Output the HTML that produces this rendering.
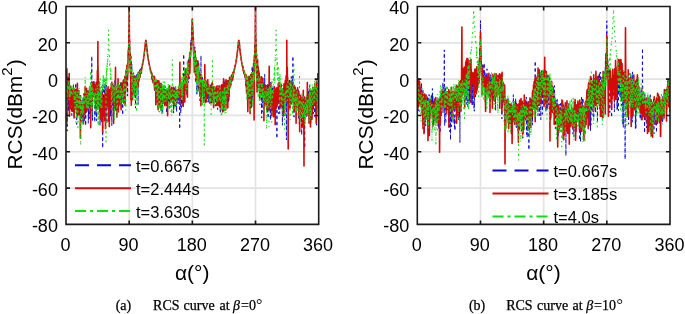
<!DOCTYPE html>
<html><head><meta charset="utf-8"><style>
html,body{margin:0;padding:0;background:#fff;width:685px;height:314px;overflow:hidden}
svg{display:block;will-change:transform;font-family:"Liberation Sans",sans-serif;fill:#000}
.cap{font-family:"Liberation Serif",serif;font-size:14px;stroke:#000;stroke-width:0.25px}
</style></head><body>
<svg width="685" height="314" viewBox="0 0 685 314">
<rect width="685" height="314" fill="#fff"/>
<clipPath id="c1"><rect x="66.0" y="6.5" width="252.7" height="217.9"/></clipPath>
<path d="M129.18 6.50V224.40M192.35 6.50V224.40M255.52 6.50V224.40M66.00 42.82H318.70M66.00 79.13H318.70M66.00 115.45H318.70M66.00 151.77H318.70M66.00 188.08H318.70" stroke="#e3e3e3" stroke-width="1.7" fill="none"/>
<g clip-path="url(#c1)" fill="none" stroke-width="1.50" stroke-linejoin="round">
<polyline stroke="#0a0ad2" stroke-width="1.0" stroke-dasharray="3 3" points="66.0,84.8 66.2,81.1 66.4,81.1 66.5,91.1 66.7,75.3 66.9,103.1 67.1,131.1 67.2,91.2 67.4,87.3 67.6,88.8 67.8,88.5 67.9,76.8 68.1,83.2 68.3,82.6 68.5,111.2 68.6,84.9 68.8,110.6 69.0,81.3 69.2,87.7 69.3,89.2 69.5,93.0 69.7,91.9 69.9,100.5 70.0,95.4 70.2,107.9 70.4,84.9 70.6,91.6 70.7,101.0 70.9,94.5 71.1,88.8 71.3,87.4 71.4,89.7 71.6,89.4 71.8,115.5 72.0,92.8 72.1,110.7 72.3,104.0 72.5,108.3 72.7,93.3 72.8,107.7 73.0,99.3 73.2,95.2 73.4,83.8 73.5,95.9 73.7,107.0 73.9,92.2 74.1,95.2 74.2,95.2 74.4,109.7 74.6,103.5 74.8,97.2 74.9,106.7 75.1,95.1 75.3,90.8 75.5,92.3 75.7,96.9 75.8,82.9 76.0,96.4 76.2,90.0 76.4,96.8 76.5,89.8 76.7,124.4 76.9,95.0 77.1,99.4 77.2,117.5 77.4,98.3 77.4,102.6 77.6,90.5 77.8,112.9 77.9,99.5 78.1,104.6 78.3,103.9 78.5,94.9 78.6,108.6 78.8,114.6 79.0,98.5 79.2,100.1 79.3,98.5 79.5,98.3 79.7,95.2 79.9,106.6 80.0,113.4 80.2,95.2 80.4,128.4 80.6,114.7 80.7,98.8 80.9,103.0 81.1,103.7 81.3,100.7 81.4,113.5 81.6,106.4 81.8,122.2 82.0,108.8 82.1,111.7 82.3,104.0 82.5,115.2 82.7,103.1 82.8,121.0 83.0,97.2 83.2,111.7 83.4,111.4 83.5,104.1 83.7,109.5 83.9,93.6 84.1,105.5 84.3,121.8 84.4,101.3 84.6,106.7 84.8,91.6 85.0,112.4 85.1,96.1 85.2,117.3 85.3,105.9 85.5,102.3 85.7,125.8 85.8,94.5 86.0,96.0 86.2,107.4 86.4,102.1 86.5,113.0 86.7,108.2 86.9,110.3 87.1,107.5 87.2,97.7 87.4,103.0 87.6,101.9 87.8,103.0 87.9,105.9 88.1,94.9 88.3,123.4 88.5,112.2 88.6,110.1 88.8,117.7 89.0,96.2 89.2,118.6 89.3,87.4 89.5,89.8 89.7,102.3 89.9,92.1 90.0,101.3 90.2,94.1 90.4,101.1 90.6,90.7 90.7,91.3 90.7,108.1 90.9,100.1 91.1,87.7 91.3,96.9 91.4,94.8 91.6,97.6 91.8,56.1 91.8,68.9 92.0,108.4 92.1,103.6 92.3,95.3 92.5,120.6 92.7,95.3 92.8,82.5 93.0,88.9 93.2,95.2 93.4,95.1 93.6,91.4 93.7,88.8 93.9,82.2 94.1,80.8 94.3,92.9 94.4,88.5 94.6,86.7 94.8,122.2 95.0,97.6 95.1,86.5 95.3,97.2 95.5,96.7 95.7,102.6 95.8,84.4 96.0,115.7 96.2,102.8 96.4,90.6 96.5,120.7 96.7,120.1 96.9,114.0 97.1,98.8 97.2,105.3 97.4,86.8 97.6,85.7 97.8,97.2 97.9,104.5 97.9,108.4 98.1,108.2 98.3,100.6 98.5,102.3 98.6,90.6 98.8,106.1 99.0,94.7 99.2,94.1 99.3,97.9 99.5,92.3 99.7,112.0 99.9,96.0 100.0,125.7 100.2,92.4 100.4,118.8 100.6,100.4 100.7,99.4 100.9,102.6 101.1,94.3 101.3,97.7 101.4,103.1 101.6,99.5 101.8,97.8 102.0,91.4 102.2,93.1 102.3,95.2 102.5,88.8 102.7,148.1 102.9,84.6 103.0,91.1 103.2,98.2 103.4,102.3 103.6,97.6 103.7,90.2 103.9,93.8 104.1,118.0 104.3,86.3 104.4,92.7 104.6,89.8 104.8,79.7 105.0,88.8 105.1,96.1 105.3,84.6 105.5,96.6 105.7,110.7 105.8,109.2 106.0,96.1 106.2,85.6 106.4,87.4 106.5,85.1 106.7,96.3 106.9,123.6 107.1,96.2 107.2,93.4 107.4,106.2 107.6,97.5 107.8,104.7 107.9,89.3 108.1,100.8 108.3,92.1 108.5,89.9 108.6,112.5 108.6,95.8 108.8,100.3 109.0,105.3 109.2,98.2 109.3,87.8 109.5,91.5 109.7,99.5 109.9,101.1 110.0,102.2 110.2,109.2 110.4,116.6 110.6,90.3 110.7,107.0 110.9,116.4 111.1,87.5 111.3,98.1 111.5,104.1 111.6,92.3 111.8,125.8 112.0,113.6 112.2,92.4 112.3,86.4 112.5,105.4 112.7,83.0 112.9,97.1 113.0,97.6 113.2,85.4 113.4,93.1 113.6,92.0 113.7,106.3 113.9,114.0 114.1,108.1 114.3,96.7 114.4,97.7 114.6,89.5 114.8,80.5 115.0,100.9 115.1,92.7 115.3,90.0 115.5,89.0 115.7,94.5 115.8,111.1 116.0,104.5 116.2,94.1 116.4,101.5 116.5,89.1 116.7,86.4 116.9,86.3 117.1,92.2 117.2,93.5 117.4,92.0 117.6,90.9 117.8,92.8 117.9,91.9 118.1,89.3 118.3,101.9 118.5,96.5 118.6,86.3 118.8,101.5 119.0,104.2 119.2,100.9 119.3,96.8 119.5,90.6 119.7,97.9 119.9,85.6 120.0,91.1 120.2,96.0 120.4,95.8 120.6,82.3 120.8,100.3 120.9,87.1 121.1,82.7 121.3,101.0 121.5,88.2 121.6,82.5 121.8,100.7 122.0,95.6 122.2,94.3 122.3,99.8 122.5,96.2 122.7,115.1 122.9,89.0 123.0,86.2 123.2,89.6 123.4,101.7 123.6,104.8 123.7,97.2 123.9,89.8 124.1,85.2 124.3,87.5 124.4,83.0 124.6,80.8 124.8,91.3 125.0,89.0 125.1,96.9 125.3,80.0 125.5,88.3 125.7,93.7 125.8,78.2 126.0,69.7 126.2,86.8 126.4,75.5 126.5,72.5 126.7,71.1 126.9,69.8 127.1,76.9 127.2,74.7 127.4,70.1 127.6,96.1 127.8,70.1 127.9,62.5 128.1,59.3 128.3,54.7 128.5,43.4 128.6,49.0 128.8,45.4 129.0,32.5 129.2,3.5 129.4,39.7 129.5,36.3 129.7,39.0 129.9,47.8 130.1,54.7 130.2,69.7 130.4,64.2 130.6,69.4 130.8,76.5 130.9,61.0 131.1,56.5 131.3,63.1 131.5,73.2 131.6,69.0 131.8,64.0 132.0,89.3 132.2,78.0 132.3,82.3 132.5,76.4 132.7,88.6 132.9,86.4 133.0,83.2 133.2,83.9 133.4,81.8 133.6,72.7 133.7,90.4 133.9,90.7 134.1,95.0 134.3,89.5 134.4,91.0 134.6,96.4 134.8,83.1 135.0,74.4 135.1,77.3 135.3,81.4 135.5,108.1 135.7,87.4 135.8,98.5 136.0,80.1 136.2,82.9 136.4,87.4 136.5,78.3 136.7,74.4 136.9,87.1 137.1,81.3 137.2,79.2 137.4,88.1 137.6,83.8 137.8,78.3 137.9,75.2 138.1,104.7 138.3,78.7 138.5,85.4 138.7,73.8 138.8,78.7 139.0,81.7 139.2,71.8 139.4,73.0 139.5,72.4 139.7,69.8 139.9,72.9 140.1,76.3 140.2,70.8 140.4,69.8 140.6,71.5 140.8,68.6 140.9,70.7 141.1,72.1 141.3,71.5 141.5,71.3 141.6,70.2 141.8,67.4 142.0,68.8 142.2,66.8 142.3,66.5 142.5,66.0 142.7,63.6 142.9,61.7 143.0,61.9 143.2,61.6 143.4,59.7 143.6,59.0 143.7,57.6 143.9,56.9 144.1,55.6 144.3,53.8 144.4,52.4 144.6,50.9 144.8,49.1 145.0,47.4 145.1,45.5 145.3,43.9 145.5,42.2 145.7,41.0 145.8,40.4 145.9,40.4 146.0,40.8 146.2,41.7 146.4,43.1 146.5,44.9 146.7,46.6 146.9,48.5 147.1,50.2 147.3,51.8 147.4,53.5 147.6,54.9 147.8,56.3 148.0,57.1 148.1,58.3 148.3,59.5 148.5,60.8 148.7,61.7 148.8,62.7 149.0,63.5 149.2,64.8 149.4,65.4 149.5,66.3 149.7,66.1 149.9,67.9 150.1,68.7 150.2,68.4 150.4,70.2 150.6,70.0 150.8,72.5 150.9,70.4 151.1,71.9 151.3,72.7 151.5,73.9 151.6,75.0 151.8,74.3 152.0,78.2 152.2,73.7 152.3,81.6 152.5,82.1 152.7,75.8 152.9,81.5 153.0,76.0 153.2,79.4 153.4,77.7 153.6,84.8 153.7,75.4 153.9,77.5 154.1,75.4 154.3,90.1 154.4,77.9 154.6,79.8 154.8,90.8 155.0,86.5 155.1,84.6 155.3,83.4 155.5,95.5 155.7,84.6 155.8,102.2 156.0,83.1 156.2,98.3 156.4,95.0 156.6,85.6 156.7,80.4 156.9,97.3 157.1,97.3 157.3,98.5 157.4,98.7 157.6,80.2 157.8,106.3 158.0,99.5 158.1,84.9 158.3,86.3 158.5,85.1 158.7,100.5 158.8,88.2 159.0,87.6 159.2,91.4 159.4,89.4 159.5,107.6 159.7,88.3 159.9,105.1 160.1,106.5 160.2,102.5 160.4,92.0 160.6,86.8 160.8,96.8 160.9,91.3 161.1,111.7 161.3,88.2 161.5,99.2 161.6,91.3 161.8,102.6 162.0,111.5 162.2,97.0 162.3,87.2 162.5,103.0 162.7,113.4 162.9,94.0 163.0,99.0 163.2,90.4 163.4,90.4 163.6,97.8 163.7,98.9 163.9,101.4 164.1,103.6 164.3,90.2 164.4,98.4 164.6,94.1 164.8,102.1 165.0,89.1 165.1,94.3 165.3,86.4 165.5,89.7 165.7,101.5 165.9,89.9 166.0,96.0 166.2,97.7 166.4,97.3 166.6,113.1 166.7,102.4 166.9,98.0 167.1,94.5 167.3,96.4 167.4,100.4 167.6,91.3 167.8,93.7 168.0,95.3 168.1,90.9 168.3,91.2 168.5,101.9 168.7,98.6 168.8,93.4 169.0,93.3 169.2,101.1 169.4,97.0 169.5,102.0 169.7,100.3 169.9,107.7 170.1,100.7 170.2,101.2 170.4,94.5 170.6,91.3 170.8,95.1 170.9,89.1 171.1,92.0 171.3,93.5 171.5,89.3 171.6,92.7 171.8,99.8 172.0,101.6 172.2,92.2 172.3,97.1 172.3,96.6 172.5,98.5 172.7,89.7 172.9,94.4 173.0,90.5 173.2,100.3 173.4,93.6 173.6,113.1 173.7,96.0 173.9,92.4 174.1,102.5 174.3,106.8 174.5,88.1 174.6,93.1 174.8,90.2 175.0,89.0 175.2,107.8 175.3,86.9 175.5,92.1 175.7,96.8 175.9,102.9 176.0,93.7 176.2,98.9 176.4,95.4 176.6,111.7 176.7,90.3 176.9,96.3 177.1,92.2 177.3,93.6 177.4,95.6 177.6,93.3 177.8,98.3 178.0,95.8 178.1,103.6 178.3,97.2 178.5,90.2 178.7,95.6 178.8,100.6 179.0,95.8 179.2,104.5 179.4,105.8 179.5,105.5 179.7,129.1 179.9,93.1 179.9,98.4 180.1,96.9 180.2,94.0 180.4,94.4 180.6,97.9 180.8,113.4 180.9,100.1 181.1,87.1 181.3,88.5 181.5,107.5 181.6,88.2 181.8,90.4 182.0,93.4 182.2,86.9 182.3,87.9 182.5,84.1 182.7,106.0 182.9,90.9 183.0,97.1 183.2,91.1 183.4,86.2 183.6,69.8 183.7,54.0 183.8,63.6 183.9,89.8 184.1,82.3 184.3,73.0 184.5,74.2 184.6,87.3 184.8,90.2 185.0,77.9 185.2,92.1 185.3,79.4 185.5,73.6 185.7,84.4 185.9,91.2 186.0,72.9 186.2,72.7 186.4,77.7 186.6,93.1 186.7,76.3 186.9,74.5 187.1,95.4 187.3,85.1 187.4,73.6 187.6,70.6 187.8,60.8 188.0,77.5 188.1,82.7 188.3,61.5 188.5,65.0 188.7,59.7 188.8,78.5 189.0,58.0 189.2,78.6 189.4,66.1 189.5,57.1 189.7,54.5 189.9,62.6 190.1,53.2 190.2,50.3 190.4,54.5 190.6,51.5 190.8,42.7 190.9,46.4 191.1,40.0 191.3,43.3 191.5,41.7 191.6,36.2 191.8,33.2 192.0,25.3 192.2,21.1 192.3,18.1 192.5,22.9 192.7,29.6 192.9,34.3 193.1,43.2 193.2,45.7 193.4,40.7 193.6,41.6 193.8,58.6 193.9,49.9 194.1,51.6 194.3,64.7 194.5,62.2 194.6,57.8 194.8,47.0 195.0,55.7 195.2,50.8 195.3,67.2 195.5,58.5 195.7,58.8 195.9,83.0 196.0,70.6 196.2,58.9 196.4,82.5 196.6,70.9 196.7,94.2 196.9,70.3 197.1,70.6 197.3,66.8 197.4,67.8 197.6,72.7 197.8,91.4 198.0,86.4 198.1,87.0 198.3,90.5 198.5,72.1 198.7,72.4 198.8,76.1 199.0,90.7 199.2,84.4 199.4,82.8 199.5,77.0 199.7,96.3 199.9,100.7 200.1,84.9 200.2,92.6 200.4,73.9 200.6,80.9 200.8,72.0 200.9,67.6 201.0,55.6 201.1,101.9 201.3,87.0 201.5,79.8 201.7,92.0 201.8,86.9 202.0,85.1 202.2,84.0 202.4,91.7 202.5,77.2 202.7,93.8 202.9,84.1 203.1,92.6 203.2,92.7 203.4,82.4 203.6,89.2 203.8,91.1 203.9,87.7 204.1,92.3 204.3,90.6 204.5,91.4 204.6,101.6 204.8,87.6 204.8,92.3 205.0,93.8 205.2,87.7 205.3,89.8 205.5,89.7 205.7,103.7 205.9,88.5 206.0,93.2 206.2,88.6 206.4,88.2 206.6,95.4 206.7,95.8 206.9,88.7 207.1,88.2 207.3,99.0 207.4,94.1 207.6,94.8 207.8,94.8 208.0,96.7 208.1,102.2 208.3,91.0 208.5,89.6 208.7,100.4 208.8,95.8 209.0,102.2 209.2,95.0 209.4,94.9 209.5,88.4 209.7,95.0 209.9,91.2 210.1,86.2 210.2,92.4 210.4,84.8 210.6,90.7 210.8,96.2 211.0,103.0 211.1,95.5 211.3,95.1 211.5,95.5 211.7,96.7 211.8,103.5 212.0,89.3 212.2,92.6 212.4,94.3 212.4,91.7 212.5,88.4 212.7,87.9 212.9,93.0 213.1,96.6 213.2,90.7 213.4,103.8 213.6,94.7 213.8,98.4 213.9,97.5 214.1,96.5 214.3,88.8 214.5,97.6 214.6,90.5 214.8,90.7 215.0,98.5 215.2,94.7 215.3,106.2 215.5,98.0 215.7,96.2 215.9,90.2 216.0,94.6 216.2,98.8 216.4,91.4 216.6,102.1 216.7,99.8 216.9,98.8 217.1,97.9 217.3,100.8 217.4,94.1 217.6,109.6 217.8,94.4 218.0,95.2 218.1,104.0 218.3,101.0 218.5,94.6 218.7,98.4 218.8,94.2 219.0,91.6 219.2,99.2 219.4,99.1 219.6,98.5 219.7,88.6 219.9,91.4 220.1,93.8 220.3,113.4 220.4,109.9 220.6,95.4 220.8,94.5 221.0,95.0 221.1,102.7 221.3,105.9 221.5,84.3 221.7,98.0 221.8,92.2 222.0,88.9 222.2,87.9 222.4,85.8 222.5,91.5 222.7,110.9 222.9,95.5 223.1,84.7 223.2,81.4 223.4,84.9 223.6,90.3 223.8,98.2 223.9,88.3 224.1,94.3 224.3,82.8 224.5,92.5 224.6,85.8 224.8,108.4 225.0,79.6 225.2,92.6 225.3,84.0 225.5,83.6 225.7,96.1 225.9,85.4 226.0,85.8 226.2,85.9 226.4,89.1 226.6,96.4 226.7,87.6 226.9,81.0 227.1,86.4 227.3,99.9 227.4,91.8 227.6,95.8 227.8,96.7 228.0,86.3 228.1,83.5 228.3,82.5 228.5,102.0 228.7,80.3 228.9,87.9 229.0,100.3 229.2,89.0 229.4,82.1 229.6,84.5 229.7,81.8 229.9,86.4 230.1,78.9 230.3,81.7 230.4,88.4 230.6,79.5 230.8,85.1 231.0,81.7 231.1,77.4 231.3,77.2 231.5,78.8 231.7,74.6 231.8,81.4 232.0,76.3 232.2,80.8 232.4,78.6 232.5,78.8 232.7,78.9 232.9,73.8 233.1,76.6 233.2,72.4 233.4,72.1 233.6,71.7 233.8,71.1 233.9,71.4 234.1,71.6 234.3,71.3 234.5,69.3 234.6,69.0 234.8,67.9 235.0,66.7 235.2,65.8 235.3,65.6 235.5,64.7 235.7,63.4 235.9,62.7 236.0,61.2 236.2,60.8 236.4,59.2 236.6,58.0 236.7,57.2 236.9,55.9 237.1,54.6 237.3,53.5 237.4,51.8 237.6,50.0 237.8,48.6 238.0,46.7 238.2,44.8 238.3,43.1 238.5,41.8 238.7,40.7 238.8,40.5 238.9,40.4 239.0,41.1 239.2,42.2 239.4,43.8 239.6,45.5 239.7,47.5 239.9,49.2 240.1,50.8 240.3,52.4 240.4,54.0 240.6,55.2 240.8,56.7 241.0,57.5 241.1,59.3 241.3,60.5 241.5,61.3 241.7,62.4 241.8,63.7 242.0,64.4 242.2,65.1 242.4,66.0 242.5,66.2 242.7,65.9 242.9,67.8 243.1,67.4 243.2,69.2 243.4,70.2 243.6,69.8 243.8,71.3 243.9,74.2 244.1,71.2 244.3,75.4 244.5,72.2 244.6,74.1 244.8,74.0 245.0,74.6 245.2,77.2 245.3,75.7 245.5,80.3 245.7,77.5 245.9,77.8 246.0,79.2 246.2,84.7 246.4,89.2 246.6,80.9 246.8,77.5 246.9,86.9 247.1,85.8 247.3,96.2 247.5,98.6 247.6,84.4 247.8,78.4 248.0,88.1 248.2,85.1 248.3,83.8 248.5,75.7 248.7,91.0 248.9,95.6 249.0,89.7 249.2,80.2 249.4,89.6 249.6,89.3 249.7,78.6 249.9,82.9 250.1,76.4 250.3,78.1 250.4,79.6 250.6,76.3 250.8,89.0 251.0,80.9 251.1,100.9 251.3,96.5 251.5,81.1 251.7,89.7 251.8,106.5 252.0,75.9 252.2,65.9 252.4,100.0 252.5,68.4 252.7,73.2 252.9,82.4 253.1,69.4 253.2,70.5 253.4,96.5 253.6,69.4 253.8,85.4 253.9,78.7 254.1,59.5 254.3,78.7 254.5,53.3 254.6,72.4 254.8,45.0 255.0,47.1 255.2,39.6 255.3,38.7 255.5,3.5 255.7,35.3 255.9,37.5 256.1,48.2 256.2,52.6 256.4,64.1 256.6,65.3 256.8,54.6 256.9,83.5 257.1,87.1 257.3,69.5 257.5,87.7 257.6,68.1 257.8,79.7 258.0,87.8 258.2,76.0 258.3,69.9 258.5,88.0 258.7,81.1 258.9,78.4 259.0,79.6 259.2,72.8 259.4,80.8 259.6,75.8 259.7,89.8 259.9,91.7 260.1,84.3 260.3,83.6 260.4,87.5 260.6,93.5 260.8,86.2 261.0,86.7 261.1,94.0 261.3,105.0 261.5,84.7 261.7,118.1 261.8,96.7 262.0,111.9 262.2,88.4 262.4,86.1 262.5,103.7 262.7,87.8 262.9,83.1 263.1,85.3 263.2,101.6 263.4,88.1 263.6,91.7 263.8,89.5 263.9,88.1 264.1,81.7 264.3,90.6 264.5,94.3 264.7,74.2 264.8,88.9 265.0,90.1 265.2,100.7 265.4,88.4 265.5,93.6 265.7,96.7 265.9,85.4 266.1,86.4 266.2,85.1 266.4,99.6 266.6,111.9 266.8,87.3 266.9,103.6 267.1,95.6 267.3,89.3 267.5,107.7 267.6,94.4 267.8,83.6 268.0,104.8 268.2,118.6 268.3,83.1 268.5,100.9 268.7,104.5 268.9,95.0 269.0,88.7 269.2,83.2 269.4,97.5 269.6,93.4 269.7,92.1 269.9,96.6 270.1,82.0 270.3,86.0 270.4,120.1 270.6,91.8 270.8,94.6 271.0,88.2 271.1,104.6 271.3,93.0 271.5,108.2 271.7,103.1 271.8,95.7 272.0,91.4 272.2,95.5 272.4,87.2 272.5,91.3 272.7,100.9 272.9,88.5 273.1,109.9 273.2,91.9 273.4,89.9 273.6,104.1 273.8,101.3 274.0,100.4 274.1,85.8 274.3,94.5 274.5,97.9 274.7,97.0 274.8,113.6 275.0,107.0 275.2,100.5 275.4,100.2 275.5,95.2 275.7,89.6 275.9,97.3 276.1,105.9 276.1,92.6 276.2,107.8 276.4,87.8 276.6,96.2 276.8,108.5 276.9,138.5 277.1,99.8 277.3,94.8 277.5,96.6 277.6,96.4 277.8,103.8 278.0,96.6 278.2,89.1 278.3,90.4 278.5,109.2 278.7,113.9 278.9,93.6 279.0,87.9 279.2,95.7 279.4,90.6 279.6,88.1 279.7,113.5 279.9,107.5 280.1,98.4 280.3,92.3 280.4,99.7 280.6,96.9 280.8,93.3 281.0,95.0 281.1,99.5 281.3,91.3 281.5,105.5 281.7,109.1 281.8,102.4 282.0,98.8 282.2,93.6 282.4,125.3 282.5,92.5 282.7,90.2 282.9,110.9 283.1,111.4 283.3,90.6 283.4,106.9 283.6,98.9 283.8,88.4 284.0,102.7 284.1,93.8 284.3,107.6 284.5,96.2 284.7,117.5 284.8,94.7 285.0,91.8 285.2,87.7 285.4,104.7 285.5,86.2 285.7,88.8 285.9,109.9 286.1,97.5 286.2,92.4 286.4,140.0 286.6,92.0 286.8,96.9 286.8,97.3 286.9,90.7 287.1,96.3 287.3,90.6 287.5,92.9 287.6,103.1 287.8,88.3 288.0,102.7 288.2,88.5 288.3,103.6 288.5,97.5 288.7,101.4 288.9,95.7 289.0,91.6 289.2,92.2 289.4,78.7 289.6,83.5 289.7,100.8 289.9,80.6 290.1,87.4 290.3,87.8 290.4,92.9 290.6,89.1 290.8,87.8 291.0,89.3 291.1,80.7 291.3,76.5 291.5,101.1 291.7,89.9 291.9,82.6 292.0,92.6 292.2,89.9 292.4,79.2 292.6,82.9 292.7,87.3 292.9,66.7 292.9,56.1 293.1,81.8 293.3,87.5 293.4,85.8 293.6,94.7 293.8,89.2 294.0,113.3 294.0,117.1 294.1,84.5 294.3,95.7 294.5,105.9 294.7,87.6 294.8,104.8 295.0,87.4 295.2,97.1 295.4,101.0 295.5,110.4 295.7,99.5 295.9,105.1 296.1,103.7 296.2,103.1 296.4,106.7 296.6,107.1 296.8,95.4 296.9,101.9 297.1,95.8 297.3,103.0 297.5,95.2 297.6,95.0 297.8,106.6 298.0,96.5 298.2,110.5 298.3,89.0 298.5,111.0 298.7,108.9 298.9,120.0 299.0,90.0 299.2,100.0 299.4,114.9 299.5,97.3 299.6,101.8 299.7,105.8 299.9,100.5 300.1,105.9 300.3,100.7 300.4,104.9 300.6,101.4 300.8,102.3 301.0,94.7 301.2,121.5 301.3,107.6 301.5,109.3 301.7,134.9 301.9,110.3 302.0,101.7 302.2,104.5 302.4,107.6 302.6,110.2 302.7,110.1 302.9,113.3 303.1,102.7 303.3,112.6 303.4,105.5 303.6,101.9 303.8,98.8 304.0,117.6 304.1,111.5 304.3,104.7 304.5,122.0 304.7,148.1 304.8,101.9 305.0,101.6 305.2,107.4 305.4,113.5 305.5,105.2 305.7,107.1 305.9,111.1 306.1,98.5 306.2,104.6 306.4,97.0 306.6,116.8 306.8,109.3 306.9,95.7 307.1,110.5 307.3,100.4 307.3,108.5 307.5,113.3 307.6,100.6 307.8,88.8 308.0,88.6 308.2,90.7 308.3,97.8 308.5,91.2 308.7,102.7 308.9,93.8 309.0,95.4 309.2,118.8 309.4,93.4 309.6,85.6 309.8,105.4 309.9,89.5 310.1,93.9 310.3,99.1 310.5,94.3 310.6,99.4 310.8,101.2 311.0,92.3 311.2,96.0 311.3,96.7 311.5,93.1 311.7,92.1 311.9,115.7 312.0,100.6 312.2,114.1 312.4,92.9 312.6,92.2 312.7,103.9 312.9,105.4 313.1,91.4 313.3,95.0 313.4,113.7 313.6,94.1 313.8,95.4 314.0,100.8 314.1,102.2 314.3,103.6 314.5,108.0 314.7,116.5 314.8,92.5 315.0,109.9 315.2,98.1 315.4,110.8 315.5,96.7 315.7,101.7 315.9,104.3 316.1,117.9 316.2,102.8 316.4,88.3 316.6,125.2 316.8,80.2 316.9,112.1 317.1,89.2 317.3,78.5 317.5,95.4 317.6,81.3 317.8,87.8 318.0,89.0 318.2,78.1 318.3,102.3 318.5,91.2 318.7,108.2"/>
<polyline stroke="#d20a0a" stroke-width="1.6" points="66.0,76.6 66.2,74.5 66.4,84.8 66.5,82.1 66.7,101.6 66.9,68.7 67.1,87.4 67.2,122.0 67.4,95.0 67.6,89.9 67.8,83.3 67.9,88.7 68.1,81.6 68.3,84.5 68.5,81.8 68.6,77.2 68.8,97.7 69.0,85.4 69.2,73.5 69.3,98.2 69.5,116.1 69.7,91.5 69.9,90.0 70.0,86.1 70.2,96.8 70.4,90.2 70.6,86.8 70.7,93.7 70.9,108.6 71.1,100.9 71.3,90.0 71.4,89.9 71.6,100.1 71.8,102.1 72.0,90.4 72.1,100.5 72.3,103.7 72.5,95.6 72.7,90.4 72.8,111.5 73.0,90.3 73.2,100.6 73.4,88.4 73.5,95.3 73.7,111.4 73.9,102.9 74.1,118.0 74.2,113.0 74.4,112.7 74.6,89.0 74.8,92.7 74.9,109.7 75.1,92.9 75.3,101.3 75.5,97.1 75.7,99.4 75.8,98.1 76.0,96.5 76.2,89.4 76.4,101.3 76.5,108.6 76.7,90.7 76.9,111.6 77.1,115.9 77.2,97.3 77.4,83.3 77.4,101.1 77.6,99.9 77.8,90.3 77.9,103.8 78.1,96.5 78.3,95.4 78.5,101.9 78.6,90.5 78.8,114.9 79.0,113.8 79.2,103.4 79.3,100.8 79.5,99.5 79.7,112.4 79.9,105.0 80.0,112.7 80.2,96.3 80.4,138.2 80.6,110.3 80.7,109.0 80.9,107.3 81.1,117.6 81.3,112.7 81.4,109.2 81.6,110.0 81.8,104.1 82.0,104.3 82.1,105.3 82.3,104.2 82.5,103.3 82.7,112.4 82.8,106.7 83.0,109.0 83.2,117.9 83.4,99.5 83.5,123.7 83.7,104.4 83.9,104.9 84.1,112.5 84.3,98.5 84.4,94.1 84.6,113.6 84.8,102.1 85.0,103.5 85.1,86.8 85.2,102.5 85.3,108.4 85.5,95.6 85.7,91.9 85.8,100.2 86.0,99.6 86.2,98.1 86.4,93.8 86.5,88.2 86.7,111.4 86.9,104.6 87.1,93.4 87.2,94.2 87.4,95.6 87.6,97.7 87.8,102.4 87.9,100.5 88.1,90.8 88.3,93.8 88.5,93.7 88.6,105.4 88.8,103.2 89.0,102.6 89.2,98.7 89.3,97.2 89.5,93.8 89.7,107.6 89.9,93.6 90.0,109.3 90.2,94.9 90.4,99.0 90.6,111.9 90.7,96.0 90.7,127.8 90.9,92.8 91.1,95.1 91.3,97.3 91.4,89.3 91.6,84.4 91.8,110.5 91.8,94.6 92.0,85.0 92.1,85.7 92.3,98.9 92.5,86.7 92.7,97.7 92.8,91.0 93.0,82.2 93.2,88.4 93.4,92.5 93.6,81.7 93.7,96.2 93.9,92.7 94.1,91.0 94.3,90.0 94.4,85.1 94.6,84.7 94.8,90.2 95.0,94.8 95.1,93.0 95.3,94.7 95.5,87.3 95.7,102.8 95.8,104.6 96.0,108.8 96.2,82.2 96.4,98.3 96.5,95.2 96.7,91.5 96.9,104.9 97.1,90.2 97.2,91.7 97.4,70.6 97.6,92.4 97.8,62.9 97.9,41.6 97.9,63.9 98.1,71.6 98.3,83.2 98.5,88.1 98.6,83.9 98.8,95.2 99.0,81.8 99.2,107.3 99.3,102.0 99.5,102.5 99.7,91.1 99.9,103.6 100.0,104.5 100.2,93.0 100.4,107.1 100.6,96.4 100.7,119.5 100.9,104.5 101.1,105.1 101.3,115.4 101.4,101.6 101.6,101.4 101.8,121.5 102.0,111.1 102.2,93.3 102.3,109.7 102.5,123.0 102.7,132.1 102.9,102.2 103.0,100.5 103.2,111.5 103.4,115.0 103.6,115.4 103.7,99.7 103.9,97.8 104.1,111.4 104.3,110.2 104.4,101.8 104.6,120.5 104.8,95.9 105.0,106.0 105.1,93.8 105.3,92.3 105.5,128.5 105.7,107.2 105.8,87.9 106.0,92.0 106.2,95.1 106.4,96.0 106.5,97.8 106.7,107.2 106.9,106.1 107.1,97.4 107.2,100.6 107.4,96.5 107.6,92.5 107.8,90.9 107.9,89.7 108.1,86.8 108.3,93.5 108.5,90.4 108.6,121.1 108.6,91.2 108.8,102.0 109.0,103.7 109.2,96.1 109.3,126.6 109.5,111.8 109.7,93.2 109.9,90.8 110.0,98.1 110.2,93.9 110.4,108.2 110.6,88.8 110.7,90.8 110.9,93.8 111.1,101.9 111.3,83.9 111.5,96.1 111.6,88.7 111.8,82.5 112.0,87.0 112.2,94.3 112.3,98.8 112.5,96.6 112.7,89.8 112.9,88.9 113.0,88.5 113.2,95.4 113.4,103.4 113.6,123.5 113.7,91.2 113.9,108.0 114.1,99.5 114.3,95.5 114.4,95.4 114.6,102.5 114.8,87.0 115.0,99.6 115.1,109.5 115.3,92.3 115.5,67.4 115.7,102.8 115.8,94.5 116.0,95.7 116.2,97.6 116.4,92.5 116.5,97.4 116.7,91.2 116.9,117.0 117.1,94.0 117.2,102.0 117.4,102.2 117.6,95.0 117.8,100.4 117.9,87.3 118.1,78.8 118.3,112.0 118.5,100.5 118.6,92.9 118.8,105.1 119.0,105.6 119.2,100.6 119.3,85.2 119.5,86.1 119.7,86.0 119.9,98.9 120.0,87.3 120.2,89.0 120.4,88.5 120.6,96.1 120.8,94.1 120.9,102.5 121.1,109.8 121.3,82.8 121.5,89.7 121.6,93.0 121.8,93.3 122.0,87.5 122.2,84.3 122.3,86.3 122.5,94.1 122.7,85.9 122.9,82.7 123.0,89.4 123.2,80.5 123.4,85.3 123.6,99.8 123.7,89.2 123.9,101.7 124.1,79.5 124.3,88.6 124.4,89.7 124.6,91.8 124.8,76.6 125.0,85.3 125.1,105.3 125.3,85.0 125.5,84.6 125.7,91.0 125.8,76.0 126.0,79.4 126.2,71.4 126.4,83.4 126.5,84.9 126.7,77.1 126.9,65.4 127.1,70.2 127.2,72.8 127.4,65.2 127.6,77.3 127.8,64.7 127.9,59.1 128.1,56.4 128.3,50.3 128.5,52.2 128.6,51.5 128.8,42.2 129.0,28.9 129.2,3.5 129.4,36.5 129.5,39.4 129.7,51.5 129.9,64.7 130.1,67.8 130.2,53.4 130.4,56.4 130.6,71.2 130.8,82.2 130.9,99.7 131.1,85.1 131.3,105.2 131.5,91.1 131.6,72.7 131.8,73.7 132.0,75.7 132.2,78.0 132.3,76.4 132.5,99.6 132.7,94.8 132.9,75.8 133.0,92.5 133.2,85.8 133.4,83.4 133.6,83.1 133.7,89.8 133.9,82.2 134.1,82.1 134.3,80.3 134.4,77.5 134.6,76.0 134.8,80.5 135.0,82.5 135.1,77.8 135.3,90.4 135.5,92.4 135.7,78.9 135.8,78.8 136.0,77.1 136.2,80.6 136.4,83.2 136.5,87.1 136.7,80.8 136.9,85.3 137.1,79.1 137.2,90.0 137.4,80.5 137.6,80.1 137.8,79.5 137.9,73.9 138.1,86.8 138.3,72.2 138.5,82.1 138.7,76.4 138.8,80.8 139.0,80.1 139.2,76.1 139.4,74.3 139.5,78.0 139.7,76.1 139.9,77.0 140.1,77.3 140.2,76.2 140.4,71.8 140.6,71.7 140.8,69.9 140.9,71.3 141.1,70.7 141.3,73.1 141.5,70.0 141.6,69.2 141.8,68.0 142.0,67.3 142.2,66.8 142.3,65.9 142.5,63.5 142.7,64.1 142.9,62.8 143.0,62.2 143.2,61.4 143.4,60.1 143.6,58.8 143.7,57.7 143.9,56.2 144.1,55.3 144.3,53.9 144.4,52.3 144.6,50.7 144.8,49.1 145.0,47.3 145.1,45.7 145.3,43.9 145.5,42.2 145.7,41.0 145.8,40.4 145.9,40.4 146.0,40.7 146.2,41.8 146.4,43.2 146.5,45.0 146.7,46.7 146.9,48.4 147.1,50.2 147.3,51.6 147.4,53.4 147.6,54.7 147.8,56.3 148.0,57.3 148.1,58.7 148.3,59.6 148.5,60.5 148.7,61.7 148.8,62.8 149.0,63.3 149.2,64.5 149.4,64.8 149.5,65.9 149.7,66.6 149.9,68.1 150.1,68.0 150.2,68.5 150.4,70.1 150.6,71.7 150.8,72.1 150.9,70.9 151.1,71.7 151.3,73.2 151.5,73.7 151.6,72.3 151.8,78.2 152.0,79.1 152.2,74.0 152.3,75.2 152.5,77.5 152.7,77.0 152.9,77.4 153.0,82.8 153.2,81.8 153.4,80.7 153.6,79.7 153.7,82.5 153.9,78.6 154.1,84.2 154.3,82.5 154.4,84.3 154.6,77.1 154.8,88.6 155.0,88.2 155.1,89.8 155.3,86.6 155.5,85.6 155.7,83.1 155.8,104.7 156.0,90.6 156.2,83.9 156.4,95.6 156.6,83.8 156.7,80.4 156.9,85.3 157.1,82.5 157.3,82.7 157.4,85.3 157.6,104.5 157.8,91.7 158.0,108.3 158.1,109.7 158.3,84.6 158.5,93.5 158.7,96.7 158.8,80.7 159.0,81.8 159.2,87.1 159.4,90.9 159.5,97.8 159.7,105.1 159.9,100.4 160.1,85.1 160.2,92.5 160.4,85.5 160.6,83.7 160.8,109.4 160.9,85.3 161.1,83.4 161.3,104.1 161.5,84.3 161.6,85.9 161.8,87.6 162.0,96.2 162.2,90.3 162.3,87.9 162.5,90.7 162.7,88.1 162.9,90.8 163.0,101.9 163.2,87.9 163.4,89.7 163.6,87.8 163.7,91.6 163.9,95.5 164.1,100.1 164.3,90.5 164.4,95.0 164.6,90.1 164.8,105.6 165.0,101.0 165.1,98.1 165.3,95.8 165.5,96.9 165.7,93.2 165.9,90.0 166.0,100.0 166.2,97.1 166.4,105.1 166.6,102.8 166.7,96.2 166.9,95.5 167.1,102.1 167.3,107.0 167.4,89.5 167.6,115.7 167.8,92.2 168.0,94.1 168.1,92.7 168.3,88.0 168.5,90.7 168.7,91.4 168.8,95.8 169.0,87.9 169.2,97.0 169.4,91.5 169.5,90.0 169.7,85.7 169.9,99.6 170.1,91.8 170.2,89.1 170.4,90.0 170.6,91.4 170.8,90.6 170.9,93.3 171.1,94.7 171.3,100.7 171.5,89.2 171.6,93.3 171.8,87.3 172.0,89.5 172.2,100.1 172.3,91.1 172.3,93.0 172.5,88.2 172.7,92.8 172.9,92.4 173.0,103.1 173.2,88.5 173.4,94.5 173.6,87.3 173.7,95.3 173.9,100.3 174.1,91.3 174.3,104.4 174.5,100.3 174.6,92.4 174.8,90.4 175.0,92.0 175.2,91.7 175.3,95.3 175.5,89.9 175.7,96.5 175.9,97.4 176.0,95.6 176.2,96.4 176.4,94.4 176.6,96.4 176.7,95.4 176.9,95.5 177.1,102.1 177.3,90.6 177.4,90.1 177.6,93.6 177.8,94.0 178.0,90.1 178.1,96.8 178.3,90.2 178.5,94.3 178.7,91.6 178.8,90.9 179.0,88.0 179.2,94.5 179.4,92.6 179.5,84.2 179.7,104.0 179.9,62.3 179.9,72.7 180.1,83.6 180.2,99.1 180.4,86.3 180.6,83.8 180.8,95.8 180.9,94.0 181.1,86.8 181.3,91.6 181.5,92.3 181.6,85.5 181.8,91.3 182.0,82.0 182.2,89.6 182.3,86.5 182.5,88.9 182.7,86.4 182.9,84.4 183.0,87.2 183.2,106.4 183.4,91.3 183.6,83.1 183.7,84.9 183.8,82.5 183.9,85.6 184.1,79.8 184.3,76.2 184.5,79.6 184.6,93.7 184.8,102.1 185.0,81.2 185.2,86.6 185.3,83.9 185.5,68.7 185.7,88.2 185.9,89.9 186.0,78.5 186.2,78.5 186.4,77.4 186.6,73.0 186.7,81.1 186.9,74.1 187.1,95.2 187.3,69.6 187.4,97.2 187.6,69.8 187.8,79.9 188.0,68.7 188.1,67.6 188.3,65.1 188.5,76.5 188.7,63.3 188.8,61.2 189.0,61.2 189.2,61.2 189.4,61.8 189.5,64.8 189.7,53.8 189.9,73.3 190.1,61.7 190.2,53.1 190.4,52.8 190.6,55.9 190.8,45.7 190.9,47.8 191.1,44.3 191.3,49.2 191.5,41.7 191.6,43.2 191.8,33.2 192.0,27.3 192.2,23.6 192.3,19.1 192.5,23.5 192.7,28.6 192.9,31.5 193.1,40.7 193.2,37.2 193.4,41.8 193.6,46.3 193.8,54.0 193.9,50.2 194.1,49.7 194.3,72.2 194.5,65.5 194.6,52.2 194.8,60.7 195.0,51.4 195.2,53.5 195.3,56.5 195.5,74.6 195.7,58.7 195.9,58.7 196.0,58.1 196.2,65.7 196.4,81.3 196.6,61.1 196.7,77.4 196.9,60.9 197.1,76.1 197.3,61.2 197.4,76.4 197.6,68.8 197.8,69.0 198.0,61.0 198.1,74.6 198.3,79.4 198.5,63.6 198.7,76.7 198.8,69.8 199.0,74.7 199.2,78.5 199.4,91.3 199.5,72.9 199.7,73.9 199.9,93.9 200.1,87.4 200.2,94.7 200.4,89.5 200.6,86.2 200.8,79.8 200.9,105.7 201.0,80.8 201.1,74.7 201.3,85.6 201.5,82.3 201.7,83.5 201.8,90.4 202.0,93.5 202.2,83.0 202.4,79.5 202.5,83.0 202.7,84.9 202.9,82.7 203.1,89.4 203.2,91.3 203.4,84.7 203.6,81.9 203.8,102.2 203.9,97.7 204.1,83.4 204.3,82.4 204.5,94.2 204.6,87.5 204.8,74.1 204.8,64.6 205.0,85.5 205.2,84.5 205.3,92.2 205.5,86.8 205.7,91.4 205.9,81.4 206.0,95.9 206.2,88.1 206.4,101.7 206.6,81.3 206.7,89.5 206.9,88.9 207.1,83.2 207.3,84.1 207.4,86.5 207.6,83.8 207.8,79.8 208.0,94.6 208.1,90.0 208.3,91.9 208.5,92.3 208.7,86.1 208.8,85.0 209.0,92.8 209.2,93.0 209.4,91.3 209.5,91.2 209.7,92.7 209.9,103.3 210.1,90.0 210.2,89.5 210.4,92.1 210.6,90.9 210.8,87.0 211.0,90.7 211.1,85.6 211.3,97.0 211.5,86.8 211.7,93.8 211.8,84.8 212.0,83.0 212.2,87.0 212.4,90.8 212.4,82.9 212.5,101.8 212.7,91.4 212.9,89.4 213.1,92.2 213.2,90.1 213.4,94.7 213.6,107.6 213.8,90.3 213.9,89.9 214.1,86.8 214.3,99.2 214.5,91.8 214.6,93.7 214.8,88.4 215.0,88.6 215.2,94.7 215.3,98.1 215.5,98.3 215.7,87.3 215.9,88.1 216.0,98.2 216.2,102.3 216.4,89.1 216.6,105.5 216.7,86.4 216.9,94.7 217.1,92.7 217.3,86.6 217.4,89.3 217.6,90.2 217.8,86.1 218.0,85.8 218.1,92.7 218.3,94.8 218.5,105.5 218.7,89.0 218.8,86.9 219.0,94.7 219.2,102.1 219.4,95.1 219.6,107.0 219.7,88.2 219.9,85.8 220.1,100.2 220.3,89.7 220.4,94.2 220.6,108.0 220.8,91.9 221.0,90.8 221.1,94.1 221.3,105.2 221.5,95.3 221.7,92.7 221.8,88.0 222.0,95.5 222.2,84.8 222.4,104.9 222.5,96.3 222.7,112.0 222.9,101.3 223.1,97.7 223.2,91.2 223.4,95.8 223.6,78.9 223.8,84.0 223.9,86.5 224.1,110.8 224.3,87.1 224.5,92.6 224.6,92.0 224.8,85.5 225.0,104.2 225.2,97.2 225.3,104.9 225.5,83.5 225.7,109.9 225.9,94.5 226.0,79.9 226.2,84.1 226.4,88.4 226.6,82.8 226.7,97.1 226.9,89.6 227.1,84.0 227.3,90.1 227.4,80.9 227.6,108.0 227.8,107.8 228.0,88.1 228.1,85.8 228.3,80.8 228.5,86.4 228.7,80.9 228.9,82.4 229.0,96.5 229.2,86.7 229.4,85.6 229.6,77.4 229.7,81.6 229.9,78.5 230.1,81.6 230.3,81.0 230.4,85.3 230.6,86.0 230.8,83.1 231.0,80.0 231.1,77.8 231.3,76.1 231.5,81.8 231.7,75.0 231.8,76.7 232.0,77.2 232.2,79.7 232.4,78.3 232.5,74.6 232.7,79.6 232.9,72.4 233.1,77.3 233.2,74.9 233.4,74.5 233.6,72.6 233.8,73.0 233.9,73.0 234.1,70.7 234.3,69.1 234.5,69.8 234.6,67.6 234.8,68.0 235.0,66.4 235.2,65.5 235.3,64.8 235.5,65.0 235.7,63.3 235.9,62.4 236.0,61.3 236.2,60.8 236.4,59.5 236.6,58.5 236.7,57.4 236.9,56.5 237.1,54.7 237.3,53.1 237.4,52.0 237.6,50.0 237.8,48.7 238.0,46.6 238.2,44.8 238.3,43.0 238.5,41.8 238.7,40.7 238.8,40.4 238.9,40.5 239.0,41.0 239.2,42.2 239.4,43.7 239.6,45.5 239.7,47.4 239.9,49.2 240.1,50.8 240.3,52.5 240.4,53.8 240.6,55.1 240.8,56.4 241.0,57.6 241.1,58.9 241.3,60.5 241.5,60.9 241.7,62.3 241.8,63.2 242.0,64.0 242.2,65.3 242.4,66.4 242.5,65.2 242.7,66.5 242.9,68.3 243.1,70.4 243.2,70.7 243.4,69.6 243.6,70.1 243.8,70.2 243.9,73.4 244.1,72.4 244.3,73.3 244.5,73.7 244.6,73.1 244.8,75.9 245.0,74.0 245.2,77.7 245.3,77.4 245.5,77.1 245.7,78.4 245.9,85.5 246.0,74.8 246.2,77.3 246.4,76.0 246.6,93.6 246.8,79.3 246.9,76.7 247.1,83.7 247.3,80.2 247.5,86.0 247.6,89.3 247.8,111.6 248.0,97.2 248.2,88.2 248.3,96.7 248.5,81.6 248.7,98.3 248.9,82.7 249.0,76.2 249.2,86.7 249.4,83.5 249.6,83.8 249.7,77.0 249.9,88.0 250.1,113.5 250.3,76.8 250.4,78.5 250.6,86.2 250.8,74.6 251.0,89.9 251.1,95.7 251.3,107.4 251.5,99.2 251.7,79.4 251.8,82.3 252.0,72.8 252.2,74.6 252.4,83.5 252.5,73.9 252.7,89.0 252.9,83.4 253.1,94.4 253.2,79.0 253.4,80.1 253.6,63.4 253.8,66.2 253.9,70.9 254.1,120.0 254.3,64.2 254.5,55.1 254.6,54.4 254.8,58.0 255.0,44.3 255.2,44.0 255.3,33.6 255.5,3.5 255.7,33.6 255.9,46.4 256.1,50.7 256.2,44.8 256.4,60.9 256.6,73.8 256.8,62.3 256.9,59.0 257.1,92.1 257.3,81.2 257.5,69.7 257.6,59.5 257.8,73.6 258.0,66.6 258.2,67.1 258.3,70.8 258.5,82.5 258.7,70.5 258.9,76.1 259.0,78.0 259.2,74.3 259.4,87.2 259.6,79.7 259.7,98.4 259.9,94.3 260.1,88.0 260.3,80.7 260.4,84.2 260.6,86.0 260.8,87.4 261.0,83.1 261.1,76.7 261.3,93.2 261.5,76.9 261.7,84.4 261.8,82.2 262.0,80.7 262.2,82.8 262.4,91.9 262.5,87.1 262.7,90.4 262.9,78.3 263.1,96.0 263.2,84.3 263.4,93.7 263.6,100.0 263.8,89.0 263.9,120.8 264.1,97.6 264.3,92.8 264.5,97.8 264.7,106.5 264.8,87.0 265.0,84.5 265.2,97.1 265.4,100.4 265.5,99.8 265.7,85.7 265.9,96.2 266.1,103.7 266.2,94.5 266.4,93.6 266.6,94.4 266.8,101.6 266.9,92.2 267.1,111.5 267.3,91.4 267.5,107.9 267.6,111.6 267.8,93.2 268.0,92.7 268.2,104.2 268.3,97.3 268.5,104.4 268.7,96.0 268.9,90.0 269.0,99.1 269.2,66.4 269.4,110.1 269.6,100.6 269.7,91.2 269.9,95.4 270.1,97.5 270.3,102.7 270.4,87.5 270.6,88.5 270.8,106.3 271.0,83.6 271.1,96.6 271.3,104.2 271.5,97.6 271.7,92.1 271.8,115.7 272.0,98.1 272.2,94.4 272.4,111.7 272.5,109.3 272.7,92.4 272.9,101.9 273.1,100.3 273.2,92.3 273.4,95.5 273.6,116.7 273.8,89.2 274.0,95.9 274.1,108.3 274.3,86.9 274.5,96.0 274.7,87.7 274.8,101.8 275.0,88.8 275.2,124.8 275.4,90.2 275.5,90.8 275.7,99.1 275.9,95.8 276.1,89.0 276.1,108.7 276.2,91.6 276.4,93.2 276.6,94.9 276.8,87.7 276.9,95.5 277.1,102.1 277.3,105.0 277.5,89.2 277.6,88.6 277.8,104.0 278.0,97.1 278.2,95.8 278.3,84.4 278.5,87.2 278.7,91.7 278.9,85.1 279.0,82.2 279.2,83.6 279.4,90.2 279.6,98.2 279.7,103.7 279.9,91.8 280.1,104.3 280.3,101.3 280.4,107.5 280.6,93.9 280.8,92.2 281.0,97.0 281.1,84.3 281.3,90.4 281.5,100.3 281.7,105.6 281.8,100.3 282.0,89.0 282.2,95.3 282.4,91.7 282.5,90.5 282.7,89.3 282.9,101.0 283.1,100.4 283.3,96.9 283.4,115.9 283.6,101.0 283.8,93.1 284.0,83.9 284.1,95.8 284.3,112.0 284.5,97.8 284.7,101.4 284.8,99.4 285.0,99.4 285.2,80.7 285.4,96.6 285.5,80.7 285.7,88.1 285.9,101.2 286.1,75.8 286.2,92.1 286.4,82.1 286.6,89.7 286.8,61.9 286.8,40.3 286.9,78.9 287.1,78.7 287.3,67.2 287.5,96.4 287.6,76.8 287.8,100.0 288.0,95.8 288.2,149.0 288.3,81.3 288.5,111.8 288.7,87.6 288.9,81.8 289.0,91.7 289.2,91.7 289.4,87.9 289.6,83.5 289.7,94.4 289.9,104.1 290.1,108.0 290.3,93.0 290.4,82.2 290.6,94.5 290.8,95.6 291.0,94.6 291.1,91.3 291.3,104.0 291.5,91.8 291.7,81.2 291.9,98.4 292.0,100.3 292.2,96.6 292.4,101.5 292.6,93.1 292.7,96.1 292.9,88.4 292.9,92.3 293.1,89.3 293.3,102.0 293.4,102.5 293.6,89.4 293.8,88.1 294.0,102.1 294.0,90.8 294.1,96.0 294.3,110.8 294.5,85.8 294.7,98.4 294.8,89.1 295.0,87.2 295.2,97.1 295.4,100.6 295.5,97.3 295.7,94.7 295.9,104.6 296.1,123.3 296.2,103.3 296.4,90.3 296.6,94.4 296.8,97.3 296.9,100.8 297.1,107.2 297.3,100.8 297.5,91.4 297.6,87.7 297.8,92.6 298.0,92.7 298.2,92.8 298.3,94.6 298.5,96.1 298.7,115.0 298.9,108.6 299.0,93.9 299.2,104.0 299.4,101.4 299.5,124.7 299.6,119.6 299.7,131.6 299.9,100.0 300.1,117.8 300.3,95.4 300.4,97.0 300.6,114.5 300.8,108.1 301.0,109.8 301.2,105.0 301.3,98.7 301.5,97.9 301.7,102.8 301.9,117.1 302.0,103.4 302.2,101.0 302.4,104.8 302.6,127.0 302.7,111.5 302.9,117.1 303.1,98.6 303.3,90.3 303.4,107.0 303.6,96.8 303.8,112.3 304.0,165.9 304.1,99.6 304.3,104.5 304.5,117.2 304.7,97.1 304.8,101.4 305.0,102.7 305.2,110.4 305.4,101.2 305.5,113.3 305.7,100.1 305.9,112.4 306.1,104.3 306.2,114.7 306.4,101.6 306.6,105.6 306.8,105.4 306.9,114.6 307.1,99.6 307.3,94.9 307.3,82.5 307.5,113.4 307.6,107.5 307.8,112.9 308.0,104.9 308.2,107.9 308.3,105.3 308.5,102.9 308.7,105.9 308.9,96.6 309.0,123.1 309.2,93.5 309.4,104.8 309.6,92.7 309.8,92.1 309.9,94.5 310.1,101.8 310.3,106.2 310.5,127.0 310.6,106.3 310.8,123.0 311.0,90.6 311.2,93.8 311.3,106.8 311.5,100.8 311.7,107.3 311.9,106.9 312.0,119.3 312.2,100.0 312.4,112.3 312.6,98.8 312.7,89.2 312.9,87.4 313.1,94.4 313.3,103.4 313.4,105.2 313.6,104.8 313.8,103.2 314.0,95.2 314.1,90.8 314.3,92.3 314.5,96.7 314.7,103.1 314.8,104.7 315.0,83.9 315.2,101.5 315.4,90.2 315.5,93.7 315.7,87.8 315.9,95.1 316.1,86.7 316.2,123.3 316.4,87.1 316.6,96.1 316.8,83.0 316.9,85.8 317.1,92.5 317.3,80.8 317.5,96.4 317.6,94.7 317.8,73.8 318.0,80.0 318.2,87.0 318.3,97.1 318.5,117.3 318.7,84.1"/>
<polyline stroke="#14dc14" stroke-width="1.1" stroke-dasharray="2 3.5 1 3.5" points="66.0,88.2 66.2,107.3 66.4,102.2 66.5,93.3 66.7,80.9 66.9,124.1 67.1,86.0 67.2,95.8 67.4,84.6 67.6,87.3 67.8,85.1 67.9,93.3 68.1,88.4 68.3,85.4 68.5,83.0 68.6,87.4 68.8,80.8 69.0,88.6 69.2,86.1 69.3,100.5 69.5,92.8 69.7,84.0 69.9,98.1 70.0,95.9 70.2,86.7 70.4,92.7 70.6,89.9 70.7,96.6 70.9,91.3 71.1,92.0 71.3,94.6 71.4,85.0 71.6,89.9 71.8,93.4 72.0,93.1 72.1,93.0 72.3,91.7 72.5,92.0 72.7,94.2 72.8,88.7 73.0,85.4 73.2,88.4 73.4,90.0 73.5,89.6 73.7,94.7 73.9,99.4 74.1,100.1 74.2,88.1 74.4,102.5 74.6,100.7 74.8,92.6 74.9,108.2 75.1,99.6 75.3,96.4 75.5,93.9 75.7,90.6 75.8,95.8 76.0,124.7 76.2,91.1 76.4,103.9 76.5,118.0 76.7,113.4 76.9,105.2 77.1,99.2 77.2,106.2 77.4,100.8 77.4,92.6 77.6,91.1 77.8,98.3 77.9,129.4 78.1,91.8 78.3,104.8 78.5,102.9 78.6,107.4 78.8,105.3 79.0,94.3 79.2,107.6 79.3,87.1 79.5,101.9 79.7,108.7 79.9,97.1 80.0,107.0 80.2,102.7 80.4,108.7 80.6,95.9 80.7,145.0 80.9,104.3 81.1,94.8 81.3,107.7 81.4,112.5 81.6,105.6 81.8,109.8 82.0,110.6 82.1,100.2 82.3,114.5 82.5,101.7 82.7,104.5 82.8,126.0 83.0,97.7 83.2,108.8 83.4,101.4 83.5,105.0 83.7,112.1 83.9,97.9 84.1,105.1 84.3,105.2 84.4,103.0 84.6,96.4 84.8,92.8 85.0,104.5 85.1,97.3 85.2,76.8 85.3,95.9 85.5,95.1 85.7,101.0 85.8,99.8 86.0,95.2 86.2,103.1 86.4,107.8 86.5,99.2 86.7,101.5 86.9,107.8 87.1,92.0 87.2,98.1 87.4,97.0 87.6,103.8 87.8,107.3 87.9,94.0 88.1,97.2 88.3,107.8 88.5,99.7 88.6,91.1 88.8,94.8 89.0,99.1 89.2,90.3 89.3,104.7 89.5,85.2 89.7,94.2 89.9,89.5 90.0,85.3 90.2,97.7 90.4,88.1 90.6,104.4 90.7,70.8 90.7,76.6 90.9,93.4 91.1,108.8 91.3,97.4 91.4,86.9 91.6,82.0 91.8,106.9 91.8,115.7 92.0,86.0 92.1,100.1 92.3,108.3 92.5,107.6 92.7,89.1 92.8,90.5 93.0,87.2 93.2,96.8 93.4,92.4 93.6,93.2 93.7,98.6 93.9,105.3 94.1,96.4 94.3,93.8 94.4,103.8 94.6,93.1 94.8,109.8 95.0,97.4 95.1,91.6 95.3,101.0 95.5,100.5 95.7,101.7 95.8,87.1 96.0,88.4 96.2,94.4 96.4,112.4 96.5,103.0 96.7,110.1 96.9,93.5 97.1,106.9 97.2,86.9 97.4,84.9 97.6,111.3 97.8,100.0 97.9,93.9 97.9,94.1 98.1,125.4 98.3,89.7 98.5,101.2 98.6,91.2 98.8,125.7 99.0,84.5 99.2,91.9 99.3,94.2 99.5,90.5 99.7,89.1 99.9,107.1 100.0,96.5 100.2,78.6 100.4,101.4 100.6,95.1 100.7,108.7 100.9,99.5 101.1,87.5 101.3,89.6 101.4,94.0 101.6,86.1 101.8,108.8 102.0,94.9 102.2,88.2 102.3,91.8 102.5,89.2 102.7,79.0 102.9,80.5 103.0,88.4 103.2,73.7 103.4,83.6 103.6,84.4 103.7,77.6 103.9,88.7 104.1,86.5 104.3,82.4 104.4,77.6 104.6,78.4 104.8,85.4 105.0,87.0 105.1,77.4 105.3,87.7 105.5,81.5 105.7,92.1 105.8,86.2 106.0,142.0 106.2,73.9 106.4,71.4 106.5,80.6 106.7,65.1 106.9,84.1 107.1,70.4 107.2,61.5 107.4,67.7 107.6,55.8 107.8,59.8 107.9,55.6 108.1,53.4 108.3,45.3 108.5,35.0 108.6,30.0 108.6,30.2 108.8,41.5 109.0,47.3 109.2,50.7 109.3,58.0 109.5,55.9 109.7,65.4 109.9,61.6 110.0,62.9 110.2,67.1 110.4,79.1 110.6,78.2 110.7,70.4 110.9,79.6 111.1,76.1 111.3,94.7 111.5,105.9 111.6,90.8 111.8,100.4 112.0,81.3 112.2,101.3 112.3,91.9 112.5,85.8 112.7,82.6 112.9,88.4 113.0,93.3 113.2,87.1 113.4,90.9 113.6,92.2 113.7,83.8 113.9,102.3 114.1,93.3 114.3,94.2 114.4,120.2 114.6,85.8 114.8,88.0 115.0,97.4 115.1,93.4 115.3,94.1 115.5,85.2 115.7,89.4 115.8,86.3 116.0,91.0 116.2,91.0 116.4,89.6 116.5,103.4 116.7,112.5 116.9,84.8 117.1,97.2 117.2,118.8 117.4,99.9 117.6,91.0 117.8,95.0 117.9,101.6 118.1,84.9 118.3,81.0 118.5,84.1 118.6,84.8 118.8,98.3 119.0,89.2 119.2,99.6 119.3,97.7 119.5,100.0 119.7,96.6 119.9,94.0 120.0,82.3 120.2,98.8 120.4,99.5 120.6,86.6 120.8,98.7 120.9,103.7 121.1,103.2 121.3,92.5 121.5,94.4 121.6,88.5 121.8,94.8 122.0,94.7 122.2,91.0 122.3,91.6 122.5,103.5 122.7,89.4 122.9,93.8 123.0,104.0 123.2,88.5 123.4,88.6 123.6,86.4 123.7,95.2 123.9,82.1 124.1,87.7 124.3,105.1 124.4,104.6 124.6,84.9 124.8,90.1 125.0,75.0 125.1,89.6 125.3,84.2 125.5,82.4 125.7,86.4 125.8,110.3 126.0,69.9 126.2,75.0 126.4,77.2 126.5,69.8 126.7,76.0 126.9,73.5 127.1,72.9 127.2,76.1 127.4,60.0 127.6,58.2 127.8,60.6 127.9,74.1 128.1,56.0 128.3,47.7 128.5,46.3 128.6,47.8 128.8,44.5 129.0,32.5 129.2,3.5 129.4,32.9 129.5,38.8 129.7,72.1 129.9,46.4 130.1,67.0 130.2,56.5 130.4,61.2 130.6,65.7 130.8,75.2 130.9,68.0 131.1,65.2 131.3,74.4 131.5,80.4 131.6,76.3 131.8,91.0 132.0,65.2 132.2,73.0 132.3,98.7 132.5,91.3 132.7,77.0 132.9,78.8 133.0,72.3 133.2,81.4 133.4,89.4 133.6,91.1 133.7,88.5 133.9,80.0 134.1,83.9 134.3,99.4 134.4,77.9 134.6,94.5 134.8,84.8 135.0,103.5 135.1,107.0 135.3,77.5 135.5,85.5 135.7,76.7 135.8,82.7 136.0,78.5 136.2,98.8 136.4,78.2 136.5,88.0 136.7,111.6 136.9,96.9 137.1,84.8 137.2,93.1 137.4,73.6 137.6,76.7 137.8,94.4 137.9,76.3 138.1,79.2 138.3,73.7 138.5,72.0 138.7,78.7 138.8,75.3 139.0,76.2 139.2,73.3 139.4,78.7 139.5,81.4 139.7,71.1 139.9,78.3 140.1,73.9 140.2,75.1 140.4,71.9 140.6,73.9 140.8,69.8 140.9,72.4 141.1,71.7 141.3,70.6 141.5,70.0 141.6,69.4 141.8,68.2 142.0,67.2 142.2,65.6 142.3,66.2 142.5,64.0 142.7,63.4 142.9,62.6 143.0,61.7 143.2,61.0 143.4,59.9 143.6,58.4 143.7,57.5 143.9,56.4 144.1,55.3 144.3,53.7 144.4,52.2 144.6,51.1 144.8,49.0 145.0,47.3 145.1,45.4 145.3,43.8 145.5,42.3 145.7,40.9 145.8,40.5 145.9,40.3 146.0,40.6 146.2,41.5 146.4,43.2 146.5,45.1 146.7,46.5 146.9,48.6 147.1,50.2 147.3,51.7 147.4,53.6 147.6,54.6 147.8,56.3 148.0,57.1 148.1,59.0 148.3,60.1 148.5,59.9 148.7,62.1 148.8,62.2 149.0,63.2 149.2,64.7 149.4,64.9 149.5,66.2 149.7,67.3 149.9,69.4 150.1,67.4 150.2,69.0 150.4,71.2 150.6,72.1 150.8,71.1 150.9,71.4 151.1,71.4 151.3,72.9 151.5,73.7 151.6,76.3 151.8,73.4 152.0,75.1 152.2,77.4 152.3,76.2 152.5,79.9 152.7,74.9 152.9,78.8 153.0,82.1 153.2,85.1 153.4,76.2 153.6,86.4 153.7,82.4 153.9,81.0 154.1,79.6 154.3,85.9 154.4,82.2 154.6,78.7 154.8,90.2 155.0,87.3 155.1,88.3 155.3,87.2 155.5,85.7 155.7,78.3 155.8,93.3 156.0,87.6 156.2,81.3 156.4,91.2 156.6,80.6 156.7,87.2 156.9,98.2 157.1,90.7 157.3,82.6 157.4,109.5 157.6,84.5 157.8,108.7 158.0,83.4 158.1,98.0 158.3,84.6 158.5,87.2 158.7,102.9 158.8,111.5 159.0,86.9 159.2,88.6 159.4,88.7 159.5,101.3 159.7,111.9 159.9,107.1 160.1,92.6 160.2,88.0 160.4,87.8 160.6,98.2 160.8,112.2 160.9,89.4 161.1,84.4 161.3,103.4 161.5,93.3 161.6,113.6 161.8,99.3 162.0,87.2 162.2,85.6 162.3,94.3 162.5,113.3 162.7,84.6 162.9,105.4 163.0,108.5 163.2,81.7 163.4,96.0 163.6,89.8 163.7,86.6 163.9,94.9 164.1,101.6 164.3,81.8 164.4,102.1 164.6,86.8 164.8,81.8 165.0,96.9 165.1,86.3 165.3,84.4 165.5,87.2 165.7,87.9 165.9,101.5 166.0,90.4 166.2,91.5 166.4,94.5 166.6,91.7 166.7,88.5 166.9,101.3 167.1,99.9 167.3,87.0 167.4,89.5 167.6,94.4 167.8,92.8 168.0,90.9 168.1,86.1 168.3,82.9 168.5,107.0 168.7,86.8 168.8,97.4 169.0,91.0 169.2,97.9 169.4,108.6 169.5,103.4 169.7,88.7 169.9,90.8 170.1,98.9 170.2,91.7 170.4,90.2 170.6,101.4 170.8,111.1 170.9,96.7 171.1,106.7 171.3,93.3 171.5,88.9 171.6,115.8 171.8,101.1 172.0,113.6 172.2,88.0 172.3,59.8 172.3,79.2 172.5,94.3 172.7,102.5 172.9,98.4 173.0,100.7 173.2,93.5 173.4,96.5 173.6,93.2 173.7,90.9 173.9,98.2 174.1,90.5 174.3,103.4 174.5,91.5 174.6,89.3 174.8,94.5 175.0,110.5 175.2,94.0 175.3,98.9 175.5,88.8 175.7,85.4 175.9,99.9 176.0,94.6 176.2,105.2 176.4,88.1 176.6,98.3 176.7,92.7 176.9,101.4 177.1,95.4 177.3,90.5 177.4,97.4 177.6,94.2 177.8,89.8 178.0,90.5 178.1,86.9 178.3,99.6 178.5,94.8 178.7,84.8 178.8,89.0 179.0,93.6 179.2,91.8 179.4,95.1 179.5,84.5 179.7,82.8 179.9,90.7 179.9,90.5 180.1,85.1 180.2,86.7 180.4,83.0 180.6,81.7 180.8,86.4 180.9,81.2 181.1,80.9 181.3,95.1 181.5,79.0 181.6,79.5 181.8,100.0 182.0,76.7 182.2,80.5 182.3,101.1 182.5,73.7 182.7,92.5 182.9,83.5 183.0,95.0 183.2,78.4 183.4,76.6 183.6,80.6 183.7,85.3 183.8,83.8 183.9,78.5 184.1,80.1 184.3,83.6 184.5,66.8 184.6,83.7 184.8,74.1 185.0,75.7 185.2,78.3 185.3,79.1 185.5,85.8 185.7,92.6 185.9,83.0 186.0,80.0 186.2,67.0 186.4,74.1 186.6,78.0 186.7,88.1 186.9,89.7 187.1,60.7 187.3,67.3 187.4,84.3 187.6,60.2 187.8,69.5 188.0,64.0 188.1,66.1 188.3,65.6 188.5,73.3 188.7,73.9 188.8,75.5 189.0,56.3 189.2,56.2 189.4,56.2 189.5,55.5 189.7,53.8 189.9,57.0 190.1,52.4 190.2,57.9 190.4,51.3 190.6,58.9 190.8,46.4 190.9,53.4 191.1,53.7 191.3,51.9 191.5,48.2 191.6,45.5 191.8,35.1 192.0,28.7 192.2,20.3 192.3,18.6 192.5,20.7 192.7,30.6 192.9,35.2 193.1,48.5 193.2,52.0 193.4,39.8 193.6,55.7 193.8,48.3 193.9,56.4 194.1,67.5 194.3,52.3 194.5,56.3 194.6,53.3 194.8,64.3 195.0,74.0 195.2,53.3 195.3,55.1 195.5,60.9 195.7,58.8 195.9,62.7 196.0,73.7 196.2,56.3 196.4,62.1 196.6,61.2 196.7,91.8 196.9,68.0 197.1,69.6 197.3,94.1 197.4,66.7 197.6,82.1 197.8,75.8 198.0,65.4 198.1,76.4 198.3,84.4 198.5,65.5 198.7,77.6 198.8,67.3 199.0,79.1 199.2,92.2 199.4,79.5 199.5,85.9 199.7,82.9 199.9,80.0 200.1,98.3 200.2,78.4 200.4,81.3 200.6,83.0 200.8,75.5 200.9,76.8 201.0,76.3 201.1,81.2 201.3,80.8 201.5,79.0 201.7,83.4 201.8,73.8 202.0,80.5 202.2,104.7 202.4,80.8 202.5,104.7 202.7,77.8 202.9,82.2 203.1,86.7 203.2,79.7 203.4,86.0 203.6,83.6 203.8,86.4 203.9,103.1 204.1,85.2 204.3,145.0 204.5,80.3 204.6,88.7 204.8,79.0 204.8,79.6 205.0,80.6 205.2,83.4 205.3,85.5 205.5,78.7 205.7,87.8 205.9,83.6 206.0,81.5 206.2,83.3 206.4,90.0 206.6,82.6 206.7,84.6 206.9,91.4 207.1,89.7 207.3,90.0 207.4,93.1 207.6,86.3 207.8,89.8 208.0,90.8 208.1,91.6 208.3,89.2 208.5,93.4 208.7,88.1 208.8,96.9 209.0,98.3 209.2,84.7 209.4,103.0 209.5,96.0 209.7,91.4 209.9,93.1 210.1,88.5 210.2,88.8 210.4,102.3 210.6,100.3 210.8,93.3 211.0,92.9 211.1,114.4 211.3,93.8 211.5,88.7 211.7,89.0 211.8,89.6 212.0,91.4 212.2,85.2 212.4,88.4 212.4,58.6 212.5,78.4 212.7,102.1 212.9,91.6 213.1,88.8 213.2,94.9 213.4,95.5 213.6,100.7 213.8,92.5 213.9,106.0 214.1,92.8 214.3,105.3 214.5,93.1 214.6,85.6 214.8,100.1 215.0,85.2 215.2,95.2 215.3,94.7 215.5,93.3 215.7,98.4 215.9,92.6 216.0,102.4 216.2,97.2 216.4,95.9 216.6,102.1 216.7,95.8 216.9,97.3 217.1,91.9 217.3,101.9 217.4,89.9 217.6,90.5 217.8,96.8 218.0,86.5 218.1,92.5 218.3,100.3 218.5,100.3 218.7,94.0 218.8,93.4 219.0,93.6 219.2,96.0 219.4,100.2 219.6,94.0 219.7,85.7 219.9,93.6 220.1,89.3 220.3,95.5 220.4,102.5 220.6,91.3 220.8,98.0 221.0,96.7 221.1,114.8 221.3,103.7 221.5,102.5 221.7,111.4 221.8,114.2 222.0,95.8 222.2,92.5 222.4,106.3 222.5,91.7 222.7,110.2 222.9,95.8 223.1,97.5 223.2,89.7 223.4,103.2 223.6,94.5 223.8,95.4 223.9,108.1 224.1,109.7 224.3,88.4 224.5,102.4 224.6,88.4 224.8,113.8 225.0,86.9 225.2,91.7 225.3,92.7 225.5,109.3 225.7,90.1 225.9,113.0 226.0,93.0 226.2,104.9 226.4,96.6 226.6,87.7 226.7,87.5 226.9,90.7 227.1,96.7 227.3,84.2 227.4,92.4 227.6,91.3 227.8,90.5 228.0,88.7 228.1,85.8 228.3,92.8 228.5,93.8 228.7,90.9 228.9,82.0 229.0,90.1 229.2,83.1 229.4,86.5 229.6,80.7 229.7,82.4 229.9,82.3 230.1,80.1 230.3,86.1 230.4,79.8 230.6,87.9 230.8,80.5 231.0,79.4 231.1,76.5 231.3,82.9 231.5,83.8 231.7,77.7 231.8,76.7 232.0,77.6 232.2,78.2 232.4,77.7 232.5,75.2 232.7,76.3 232.9,73.2 233.1,76.5 233.2,71.6 233.4,74.6 233.6,72.7 233.8,71.9 233.9,71.8 234.1,70.7 234.3,69.1 234.5,70.2 234.6,69.7 234.8,66.8 235.0,67.0 235.2,65.7 235.3,64.5 235.5,64.2 235.7,63.9 235.9,63.2 236.0,61.6 236.2,60.4 236.4,59.1 236.6,58.9 236.7,57.1 236.9,55.7 237.1,54.4 237.3,52.8 237.4,51.8 237.6,50.3 237.8,48.5 238.0,46.6 238.2,45.0 238.3,43.2 238.5,41.8 238.7,40.7 238.8,40.5 238.9,40.3 239.0,41.0 239.2,42.3 239.4,43.6 239.6,45.5 239.7,47.4 239.9,49.3 240.1,50.9 240.3,52.3 240.4,54.1 240.6,55.2 240.8,56.8 241.0,57.4 241.1,59.1 241.3,60.6 241.5,61.7 241.7,62.7 241.8,61.8 242.0,63.5 242.2,65.3 242.4,66.1 242.5,65.5 242.7,67.4 242.9,67.5 243.1,68.7 243.2,71.4 243.4,70.1 243.6,68.1 243.8,69.1 243.9,69.8 244.1,71.0 244.3,73.9 244.5,75.0 244.6,70.6 244.8,73.9 245.0,75.7 245.2,76.2 245.3,75.0 245.5,80.5 245.7,76.5 245.9,83.1 246.0,75.0 246.2,76.6 246.4,79.2 246.6,77.9 246.8,84.5 246.9,100.3 247.1,80.7 247.3,81.7 247.5,93.9 247.6,76.6 247.8,88.3 248.0,87.6 248.2,76.9 248.3,96.6 248.5,82.8 248.7,95.5 248.9,89.8 249.0,83.1 249.2,95.3 249.4,83.4 249.6,100.4 249.7,92.6 249.9,87.4 250.1,89.4 250.3,112.6 250.4,76.3 250.6,81.6 250.8,81.3 251.0,79.0 251.1,88.0 251.3,77.2 251.5,77.8 251.7,96.5 251.8,78.2 252.0,75.6 252.2,71.6 252.4,75.1 252.5,106.7 252.7,99.7 252.9,84.9 253.1,70.4 253.2,99.0 253.4,81.4 253.6,74.8 253.8,82.9 253.9,57.0 254.1,67.9 254.3,80.8 254.5,78.7 254.6,54.0 254.8,51.7 255.0,44.1 255.2,38.1 255.3,29.0 255.5,3.5 255.7,31.2 255.9,42.6 256.1,55.1 256.2,46.1 256.4,67.6 256.6,65.3 256.8,84.6 256.9,56.5 257.1,62.5 257.3,71.6 257.5,69.4 257.6,69.2 257.8,81.2 258.0,93.4 258.2,97.5 258.3,86.3 258.5,86.4 258.7,76.5 258.9,91.0 259.0,91.1 259.2,77.3 259.4,104.6 259.6,90.3 259.7,95.0 259.9,79.0 260.1,88.2 260.3,97.4 260.4,94.0 260.6,90.9 260.8,94.9 261.0,92.2 261.1,89.3 261.3,80.1 261.5,83.2 261.7,93.3 261.8,100.2 262.0,103.3 262.2,89.8 262.4,96.6 262.5,82.9 262.7,97.5 262.9,91.1 263.1,94.7 263.2,96.7 263.4,103.4 263.6,88.8 263.8,112.8 263.9,94.9 264.1,98.8 264.3,94.8 264.5,101.4 264.7,89.9 264.8,89.7 265.0,95.3 265.2,99.4 265.4,102.8 265.5,99.0 265.7,99.2 265.9,91.1 266.1,87.7 266.2,98.5 266.4,93.0 266.6,129.0 266.8,112.0 266.9,106.5 267.1,109.3 267.3,91.5 267.5,94.5 267.6,107.5 267.8,88.7 268.0,93.0 268.2,95.7 268.3,103.1 268.5,97.7 268.7,97.8 268.9,87.9 269.0,126.6 269.2,90.3 269.4,84.9 269.6,97.5 269.7,97.4 269.9,87.7 270.1,95.1 270.3,99.7 270.4,97.9 270.6,87.9 270.8,106.4 271.0,85.6 271.1,94.1 271.3,82.8 271.5,85.8 271.7,81.4 271.8,122.1 272.0,89.3 272.2,81.7 272.4,92.8 272.5,99.2 272.7,92.2 272.9,90.5 273.1,93.1 273.2,90.4 273.4,94.0 273.6,76.8 273.8,81.7 274.0,74.6 274.1,76.8 274.3,76.1 274.5,65.8 274.7,83.9 274.8,74.2 275.0,67.5 275.2,56.5 275.4,61.6 275.5,53.4 275.7,45.1 275.9,41.0 276.1,30.7 276.1,30.1 276.2,37.4 276.4,44.4 276.6,51.0 276.8,59.2 276.9,56.5 277.1,73.7 277.3,60.9 277.5,65.4 277.6,74.8 277.8,86.9 278.0,68.0 278.2,66.5 278.3,70.2 278.5,71.8 278.7,81.7 278.9,79.6 279.0,77.2 279.2,76.8 279.4,78.4 279.6,81.0 279.7,103.8 279.9,72.9 280.1,76.9 280.3,85.8 280.4,85.3 280.6,94.6 280.8,78.6 281.0,85.0 281.1,102.9 281.3,85.6 281.5,108.2 281.7,87.6 281.8,95.8 282.0,87.0 282.2,114.6 282.4,95.6 282.5,84.9 282.7,90.1 282.9,93.6 283.1,91.1 283.3,100.0 283.4,94.2 283.6,91.7 283.8,92.7 284.0,95.9 284.1,93.7 284.3,94.5 284.5,129.1 284.7,100.0 284.8,112.3 285.0,94.8 285.2,106.7 285.4,92.9 285.5,115.1 285.7,95.9 285.9,95.3 286.1,89.1 286.2,97.2 286.4,87.2 286.6,93.6 286.8,90.4 286.8,88.8 286.9,83.3 287.1,93.4 287.3,100.7 287.5,86.5 287.6,88.6 287.8,92.2 288.0,79.4 288.2,94.1 288.3,99.3 288.5,96.5 288.7,85.5 288.9,89.9 289.0,87.6 289.2,88.9 289.4,83.4 289.6,86.4 289.7,104.8 289.9,95.2 290.1,119.7 290.3,87.5 290.4,83.6 290.6,97.8 290.8,92.4 291.0,79.4 291.1,100.3 291.3,83.1 291.5,89.5 291.7,97.1 291.9,105.1 292.0,100.0 292.2,95.5 292.4,105.5 292.6,114.9 292.7,89.3 292.9,82.3 292.9,86.8 293.1,86.0 293.3,109.2 293.4,90.0 293.6,100.6 293.8,103.2 294.0,73.9 294.0,64.9 294.1,91.8 294.3,99.9 294.5,104.8 294.7,105.4 294.8,90.4 295.0,99.5 295.2,93.4 295.4,106.6 295.5,113.9 295.7,96.4 295.9,106.8 296.1,111.6 296.2,102.6 296.4,92.8 296.6,112.0 296.8,107.7 296.9,97.7 297.1,90.5 297.3,100.3 297.5,97.4 297.6,108.4 297.8,102.8 298.0,114.6 298.2,97.9 298.3,100.8 298.5,103.8 298.7,105.3 298.9,100.7 299.0,100.1 299.2,101.8 299.4,104.1 299.5,74.8 299.6,118.8 299.7,109.0 299.9,111.7 300.1,108.2 300.3,123.7 300.4,101.2 300.6,104.7 300.8,107.2 301.0,101.1 301.2,108.2 301.3,100.2 301.5,120.2 301.7,112.6 301.9,115.8 302.0,93.8 302.2,106.5 302.4,102.0 302.6,120.5 302.7,113.4 302.9,110.3 303.1,105.2 303.3,98.8 303.4,96.9 303.6,111.1 303.8,115.6 304.0,104.5 304.1,106.5 304.3,118.3 304.5,112.5 304.7,106.4 304.8,125.2 305.0,111.6 305.2,103.3 305.4,98.5 305.5,123.3 305.7,106.5 305.9,98.1 306.1,111.2 306.2,108.5 306.4,103.5 306.6,114.0 306.8,96.2 306.9,100.4 307.1,116.1 307.3,108.0 307.3,102.8 307.5,115.4 307.6,99.5 307.8,115.2 308.0,99.7 308.2,104.3 308.3,101.9 308.5,105.0 308.7,106.0 308.9,98.3 309.0,94.9 309.2,123.5 309.4,99.2 309.6,89.8 309.8,103.2 309.9,84.6 310.1,103.0 310.3,114.7 310.5,88.6 310.6,119.1 310.8,99.8 311.0,98.6 311.2,97.9 311.3,116.6 311.5,94.9 311.7,96.8 311.9,91.7 312.0,93.7 312.2,84.8 312.4,101.4 312.6,106.6 312.7,86.3 312.9,87.8 313.1,94.0 313.3,91.8 313.4,88.4 313.6,97.9 313.8,104.4 314.0,103.0 314.1,97.7 314.3,89.4 314.5,102.0 314.7,79.9 314.8,83.2 315.0,88.1 315.2,98.5 315.4,79.5 315.5,85.5 315.7,88.6 315.9,82.3 316.1,89.4 316.2,87.6 316.4,88.2 316.6,92.8 316.8,98.1 316.9,102.4 317.1,90.3 317.3,113.0 317.5,80.4 317.6,85.7 317.8,79.2 318.0,99.5 318.2,77.3 318.3,96.3 318.5,80.6 318.7,122.2"/>
</g>
<path d="M75.0 165.30H131.0" stroke="#0a0ad2" stroke-width="2" stroke-dasharray="14 8" fill="none"/>
<text x="136.0" y="171.70" font-size="16.5">t=0.667s</text>
<path d="M75.0 188.20H131.0" stroke="#d20a0a" stroke-width="2" fill="none"/>
<text x="136.0" y="194.60" font-size="16.5">t=2.444s</text>
<path d="M75.0 211.10H131.0" stroke="#14dc14" stroke-width="2" stroke-dasharray="11 4 3 4" fill="none"/>
<text x="136.0" y="217.50" font-size="16.5">t=3.630s</text>
<path d="M66.00 6.50H318.70V224.40H66.00ZM66.00 224.40v-3.2M66.00 6.50v3.2M129.18 224.40v-3.2M129.18 6.50v3.2M192.35 224.40v-3.2M192.35 6.50v3.2M255.52 224.40v-3.2M255.52 6.50v3.2M318.70 224.40v-3.2M318.70 6.50v3.2M66.00 6.50h3.2M318.70 6.50h-3.2M66.00 42.82h3.2M318.70 42.82h-3.2M66.00 79.13h3.2M318.70 79.13h-3.2M66.00 115.45h3.2M318.70 115.45h-3.2M66.00 151.77h3.2M318.70 151.77h-3.2M66.00 188.08h3.2M318.70 188.08h-3.2M66.00 224.40h3.2M318.70 224.40h-3.2" stroke="#1a1a1a" stroke-width="1.6" fill="none" stroke-linecap="square"/>
<text x="57.9" y="14.30" font-size="18" text-anchor="end">40</text>
<text x="57.9" y="50.62" font-size="18" text-anchor="end">20</text>
<text x="57.9" y="86.93" font-size="18" text-anchor="end">0</text>
<text x="57.9" y="123.25" font-size="18" text-anchor="end">-20</text>
<text x="57.9" y="159.57" font-size="18" text-anchor="end">-40</text>
<text x="57.9" y="195.88" font-size="18" text-anchor="end">-60</text>
<text x="57.9" y="232.20" font-size="18" text-anchor="end">-80</text>
<text x="65.40" y="251.0" font-size="18" text-anchor="middle">0</text>
<text x="128.58" y="251.0" font-size="18" text-anchor="middle">90</text>
<text x="191.75" y="251.0" font-size="18" text-anchor="middle">180</text>
<text x="254.92" y="251.0" font-size="18" text-anchor="middle">270</text>
<text x="318.10" y="251.0" font-size="18" text-anchor="middle">360</text>
<text transform="translate(21.60 169.4) rotate(-90)" font-size="20.8">RCS(dBm<tspan dy="-9.7" font-size="15">2</tspan><tspan dy="9.7" dx="1.2">)</tspan></text>
<text x="192.15" y="279.5" font-size="21" text-anchor="middle">&#945;(&#176;)</text>
<clipPath id="c2"><rect x="417.3" y="6.5" width="252.7" height="217.9"/></clipPath>
<path d="M480.48 6.50V224.40M543.65 6.50V224.40M606.83 6.50V224.40M417.30 42.82H670.00M417.30 79.13H670.00M417.30 115.45H670.00M417.30 151.77H670.00M417.30 188.08H670.00" stroke="#e3e3e3" stroke-width="1.7" fill="none"/>
<g clip-path="url(#c2)" fill="none" stroke-width="1.50" stroke-linejoin="round">
<polyline stroke="#0a0ad2" stroke-width="1.0" stroke-dasharray="3 3" points="417.3,88.1 417.5,102.9 417.7,85.2 417.8,77.3 418.0,83.9 418.2,110.8 418.4,102.7 418.5,96.1 418.7,85.2 418.9,97.9 419.1,106.2 419.2,83.4 419.4,88.6 419.6,84.8 419.8,82.9 419.9,96.0 420.1,93.7 420.3,94.1 420.5,88.4 420.6,87.4 420.8,93.6 421.0,103.6 421.2,89.6 421.3,107.5 421.5,83.3 421.7,89.8 421.9,89.3 422.0,114.1 422.2,106.6 422.4,100.5 422.6,92.5 422.7,110.4 422.9,89.4 423.1,101.5 423.3,106.7 423.4,102.5 423.6,112.3 423.8,95.9 424.0,95.4 424.1,118.4 424.3,104.0 424.5,133.0 424.7,97.3 424.8,115.4 425.0,126.6 425.2,104.5 425.4,101.8 425.5,109.7 425.7,126.1 425.9,109.6 426.1,106.2 426.2,116.3 426.4,100.8 426.6,108.4 426.8,117.3 427.0,110.0 427.1,95.9 427.3,107.5 427.5,105.9 427.7,100.3 427.8,100.4 428.0,96.3 428.2,114.7 428.4,109.7 428.5,110.4 428.7,121.3 428.9,121.6 429.1,94.5 429.2,104.2 429.4,105.8 429.6,130.5 429.8,101.2 429.9,115.7 430.1,106.0 430.3,105.9 430.5,108.0 430.6,104.2 430.8,109.4 431.0,108.5 431.2,100.6 431.3,95.6 431.5,111.1 431.7,104.0 431.9,94.8 432.0,108.8 432.2,100.1 432.4,88.6 432.6,107.8 432.7,94.8 432.9,101.4 433.1,103.6 433.3,124.3 433.4,101.3 433.6,107.6 433.8,121.7 434.0,98.9 434.1,103.7 434.3,102.8 434.5,121.0 434.7,98.6 434.8,116.8 435.0,107.6 435.2,120.9 435.4,102.4 435.6,110.1 435.7,111.7 435.9,109.2 436.1,119.4 436.3,106.1 436.4,117.6 436.6,102.9 436.8,105.0 437.0,103.8 437.1,108.5 437.3,101.6 437.5,106.7 437.7,110.1 437.8,106.3 438.0,121.0 438.2,123.9 438.4,128.1 438.5,104.9 438.7,106.6 438.9,128.4 439.1,100.5 439.2,101.5 439.4,100.7 439.6,106.2 439.8,106.6 439.9,123.4 440.1,133.0 440.3,110.4 440.5,96.9 440.6,98.1 440.8,90.9 441.0,105.8 441.2,115.9 441.3,100.6 441.5,101.2 441.7,92.8 441.9,99.6 442.0,94.7 442.2,92.0 442.4,95.4 442.6,95.0 442.7,104.9 442.9,82.2 443.1,112.8 443.3,87.3 443.4,91.2 443.6,94.6 443.8,104.9 444.0,94.1 444.1,88.5 444.3,49.9 444.5,86.6 444.7,125.7 444.9,88.3 445.0,89.4 445.2,92.0 445.4,90.5 445.6,86.9 445.7,123.8 445.9,91.3 446.1,104.3 446.3,92.9 446.4,99.4 446.6,93.8 446.8,99.5 447.0,92.6 447.1,102.2 447.3,100.0 447.5,110.0 447.7,99.2 447.8,103.1 448.0,105.2 448.2,107.6 448.4,110.9 448.5,121.1 448.7,95.2 448.9,127.5 449.1,96.7 449.2,115.4 449.4,106.4 449.6,115.6 449.8,131.7 449.9,92.7 450.1,100.5 450.3,106.3 450.5,140.0 450.6,101.5 450.8,101.5 451.0,107.2 451.2,114.5 451.3,116.5 451.5,126.5 451.7,107.5 451.9,115.9 452.0,110.1 452.2,104.1 452.4,99.2 452.6,98.0 452.7,104.6 452.9,114.4 453.1,123.1 453.3,103.4 453.5,96.0 453.6,100.4 453.8,107.2 454.0,107.4 454.2,91.3 454.3,122.0 454.5,127.2 454.7,118.1 454.9,128.8 455.0,131.0 455.2,96.9 455.4,87.9 455.6,95.9 455.7,103.3 455.9,98.8 456.1,108.2 456.3,91.3 456.4,88.1 456.6,92.1 456.8,100.2 457.0,94.6 457.1,104.7 457.3,99.9 457.5,97.5 457.7,102.7 457.8,85.4 458.0,91.9 458.2,93.6 458.4,121.2 458.5,90.9 458.7,96.5 458.9,92.1 459.1,89.4 459.2,103.1 459.4,117.4 459.6,95.9 459.8,83.6 459.9,142.7 460.1,89.9 460.3,95.8 460.5,89.8 460.6,103.4 460.8,101.5 461.0,105.8 461.2,93.4 461.3,93.0 461.5,93.5 461.7,88.6 461.9,90.5 462.0,92.7 462.2,85.2 462.4,86.0 462.6,86.8 462.8,78.5 462.9,84.8 463.1,91.2 463.3,94.2 463.5,80.8 463.6,79.1 463.8,88.6 464.0,70.0 464.2,89.3 464.3,81.9 464.5,74.9 464.7,91.2 464.9,69.6 465.0,72.0 465.2,71.7 465.4,85.0 465.6,76.8 465.7,81.0 465.9,100.2 466.1,75.0 466.3,72.7 466.4,88.3 466.6,85.0 466.8,104.4 467.0,79.6 467.1,73.6 467.3,77.4 467.5,94.6 467.7,73.4 467.8,106.5 468.0,96.6 468.2,82.4 468.4,87.7 468.5,91.0 468.7,75.1 468.9,82.0 469.1,104.0 469.2,70.8 469.4,100.4 469.6,74.4 469.8,75.0 469.9,74.1 470.1,72.2 470.3,98.3 470.5,102.3 470.6,82.4 470.8,81.3 471.0,94.1 471.2,103.7 471.3,69.4 471.5,98.7 471.7,77.2 471.9,84.4 472.1,104.7 472.2,74.5 472.4,80.5 472.6,85.5 472.8,105.5 472.9,81.6 473.1,88.0 473.3,73.4 473.5,83.9 473.6,83.3 473.8,94.9 474.0,108.4 474.2,100.6 474.3,111.2 474.5,91.2 474.7,92.9 474.9,98.7 475.0,87.5 475.2,83.9 475.4,96.6 475.6,86.6 475.7,90.7 475.9,91.5 476.1,80.2 476.3,70.2 476.4,90.3 476.6,87.6 476.8,80.2 477.0,84.6 477.1,83.2 477.3,81.7 477.5,76.2 477.7,73.1 477.8,78.7 478.0,74.3 478.2,69.6 478.4,64.3 478.5,79.6 478.7,66.8 478.9,68.3 479.1,66.3 479.2,82.6 479.4,61.7 479.6,55.5 479.8,49.1 479.9,53.0 480.1,45.3 480.3,39.3 480.5,20.6 480.7,43.2 480.8,51.7 481.0,56.2 481.2,55.4 481.4,69.6 481.5,65.6 481.7,69.1 481.9,69.4 482.1,73.9 482.2,72.3 482.4,72.2 482.6,65.0 482.8,72.4 482.9,63.3 483.1,72.2 483.3,73.4 483.5,82.9 483.6,70.5 483.8,73.3 484.0,84.0 484.2,63.1 484.3,73.7 484.5,73.4 484.7,75.1 484.9,71.1 485.0,85.2 485.2,75.3 485.4,74.7 485.6,83.4 485.7,73.9 485.9,91.4 486.1,80.6 486.3,75.7 486.4,81.2 486.6,80.4 486.8,77.8 487.0,68.8 487.1,85.9 487.3,88.9 487.5,82.8 487.7,78.3 487.8,81.2 488.0,91.6 488.2,89.3 488.4,86.2 488.5,83.1 488.7,98.4 488.9,80.3 489.1,92.6 489.2,84.1 489.4,86.0 489.6,86.8 489.8,84.4 490.0,82.3 490.1,77.0 490.3,78.7 490.5,100.3 490.7,74.7 490.8,76.8 491.0,89.4 491.2,80.6 491.4,81.5 491.5,91.7 491.7,77.4 491.9,80.1 492.1,78.1 492.2,99.9 492.4,75.0 492.6,84.4 492.8,89.0 492.9,78.6 493.1,85.1 493.3,90.8 493.5,95.2 493.6,101.1 493.8,92.8 494.0,76.4 494.2,78.6 494.3,74.8 494.5,78.1 494.7,77.6 494.9,90.4 495.0,77.2 495.2,75.9 495.4,80.3 495.6,110.5 495.7,87.0 495.9,94.5 496.1,85.2 496.3,79.9 496.4,80.0 496.6,77.4 496.8,83.0 497.0,93.6 497.1,81.3 497.3,87.8 497.5,79.1 497.7,74.9 497.8,77.8 498.0,76.9 498.2,82.7 498.4,88.2 498.6,86.5 498.7,89.9 498.9,81.2 499.1,75.1 499.3,87.0 499.4,88.1 499.6,82.3 499.8,73.5 500.0,81.8 500.1,75.6 500.3,88.7 500.5,78.0 500.7,79.6 500.8,82.4 501.0,90.9 501.2,94.8 501.4,93.1 501.5,81.1 501.7,102.7 501.9,118.8 502.1,91.1 502.2,107.5 502.4,103.3 502.6,90.2 502.8,81.2 502.9,97.4 503.1,92.2 503.3,84.4 503.5,95.8 503.6,95.5 503.8,102.6 504.0,96.3 504.2,105.9 504.3,121.7 504.5,120.5 504.7,96.6 504.9,124.9 505.0,106.0 505.2,115.7 505.4,120.7 505.6,126.7 505.7,119.8 505.9,113.7 506.1,104.3 506.3,101.9 506.4,111.9 506.6,107.7 506.8,112.9 507.0,110.8 507.1,112.4 507.3,100.0 507.5,102.2 507.7,100.8 507.9,104.6 508.0,116.3 508.2,98.3 508.4,123.2 508.6,111.3 508.7,106.0 508.9,109.2 509.1,108.4 509.3,106.2 509.4,102.1 509.6,109.5 509.8,110.2 510.0,106.5 510.1,106.8 510.3,121.2 510.5,112.1 510.7,112.6 510.8,113.3 511.0,110.6 511.2,102.6 511.4,105.1 511.5,101.5 511.7,106.8 511.9,109.0 512.1,105.3 512.2,127.2 512.4,106.8 512.6,115.5 512.8,120.0 512.9,108.5 513.1,115.7 513.3,94.7 513.5,105.3 513.6,103.8 513.8,118.4 514.0,110.0 514.2,116.8 514.3,114.5 514.5,125.7 514.7,119.4 514.9,106.3 515.0,111.6 515.2,101.9 515.4,109.6 515.6,104.3 515.7,98.3 515.9,106.5 516.1,101.5 516.3,104.6 516.4,109.2 516.6,127.7 516.8,111.5 517.0,107.9 517.2,115.3 517.3,103.0 517.5,106.3 517.7,109.5 517.9,110.9 518.0,120.2 518.2,107.5 518.4,103.9 518.6,103.8 518.7,119.9 518.9,105.6 519.1,110.5 519.3,119.0 519.4,116.5 519.6,119.5 519.8,118.8 520.0,114.7 520.1,111.4 520.3,106.3 520.5,121.6 520.7,114.4 520.8,112.5 521.0,110.6 521.2,102.8 521.4,131.1 521.5,108.1 521.7,109.2 521.9,102.7 522.1,107.1 522.2,111.6 522.4,112.7 522.6,106.3 522.8,138.2 522.9,107.6 523.1,109.4 523.3,105.5 523.5,108.9 523.6,112.0 523.8,107.2 524.0,107.4 524.2,110.8 524.3,108.4 524.5,104.1 524.7,104.7 524.9,99.3 525.0,105.3 525.2,119.2 525.4,109.9 525.6,111.6 525.8,105.7 525.9,107.7 526.1,110.3 526.3,97.1 526.5,104.6 526.6,134.3 526.8,101.1 527.0,107.7 527.2,137.5 527.3,110.3 527.5,124.2 527.7,112.6 527.9,126.7 528.0,107.4 528.2,101.2 528.4,108.1 528.6,111.0 528.7,106.8 528.9,150.0 529.1,114.1 529.3,102.2 529.4,109.0 529.6,102.2 529.8,132.9 530.0,97.5 530.1,123.5 530.3,111.5 530.5,99.6 530.7,115.7 530.8,110.4 531.0,100.8 531.2,122.6 531.4,107.3 531.5,122.8 531.7,107.9 531.9,104.1 532.1,103.8 532.2,106.5 532.4,125.1 532.6,115.6 532.8,114.0 532.9,114.3 533.1,100.2 533.3,102.2 533.5,97.0 533.6,94.7 533.8,89.3 534.0,105.1 534.2,92.1 534.3,82.8 534.5,90.1 534.7,90.8 534.9,93.8 535.1,97.7 535.2,61.0 535.4,105.8 535.6,99.8 535.8,99.5 535.9,95.1 536.1,94.7 536.3,103.5 536.5,85.6 536.6,95.6 536.8,96.8 537.0,84.2 537.2,87.0 537.3,104.3 537.5,107.6 537.7,90.9 537.9,88.7 538.0,115.7 538.2,85.1 538.4,100.5 538.6,101.2 538.7,88.4 538.9,86.4 539.1,102.7 539.3,78.3 539.4,88.5 539.6,115.7 539.8,77.4 540.0,86.1 540.1,75.1 540.3,73.0 540.5,83.8 540.7,72.0 540.8,119.7 541.0,92.9 541.2,104.5 541.4,70.7 541.5,93.0 541.7,85.3 541.9,85.2 542.1,77.8 542.2,75.7 542.4,114.3 542.6,88.3 542.8,93.2 542.9,72.8 543.1,92.8 543.3,88.0 543.5,89.2 543.6,92.6 543.8,81.8 544.0,105.3 544.2,82.9 544.4,70.4 544.5,83.6 544.7,95.8 544.9,87.0 545.1,80.5 545.2,82.2 545.4,75.4 545.6,97.6 545.8,71.9 545.9,111.6 546.1,85.8 546.3,82.2 546.5,109.9 546.6,103.6 546.8,88.3 547.0,85.4 547.2,85.7 547.3,77.9 547.5,88.2 547.7,92.7 547.9,76.4 548.0,100.9 548.2,75.4 548.4,88.8 548.6,97.5 548.7,105.0 548.9,86.6 549.1,94.7 549.3,76.0 549.4,80.9 549.6,92.2 549.8,102.6 550.0,98.0 550.1,97.5 550.3,91.3 550.5,97.2 550.7,120.2 550.8,85.9 551.0,99.5 551.2,97.1 551.4,87.6 551.5,94.2 551.7,89.8 551.9,108.3 552.1,90.7 552.2,96.3 552.4,90.3 552.6,91.4 552.8,88.6 553.0,91.1 553.1,95.1 553.3,89.0 553.5,91.6 553.7,107.1 553.8,101.5 554.0,94.0 554.2,97.4 554.4,96.6 554.5,85.6 554.7,105.9 554.9,111.9 555.1,103.4 555.2,105.1 555.4,128.7 555.6,107.2 555.8,102.9 555.9,106.7 556.1,100.1 556.3,101.6 556.5,108.2 556.6,107.5 556.8,108.5 557.0,102.4 557.2,119.3 557.3,99.5 557.5,121.2 557.7,120.7 557.9,124.1 558.0,109.0 558.2,136.8 558.4,116.8 558.6,113.4 558.7,105.1 558.9,109.2 559.1,104.9 559.3,104.1 559.4,106.2 559.6,119.9 559.8,118.3 560.0,117.3 560.1,122.1 560.3,119.0 560.5,103.5 560.7,119.7 560.8,107.6 561.0,131.8 561.2,115.7 561.4,116.9 561.5,114.4 561.7,124.0 561.9,115.4 562.1,129.0 562.3,104.2 562.4,119.1 562.6,105.6 562.8,108.0 563.0,115.4 563.1,116.3 563.3,104.8 563.5,110.7 563.7,128.3 563.8,124.1 564.0,120.5 564.2,107.6 564.4,111.0 564.5,107.7 564.7,120.9 564.9,106.4 565.1,112.5 565.2,108.9 565.4,113.4 565.6,128.2 565.8,109.8 565.9,155.8 566.1,113.0 566.3,118.6 566.5,107.5 566.6,108.8 566.8,121.9 567.0,120.0 567.2,119.0 567.3,105.1 567.5,113.8 567.7,118.9 567.9,115.7 568.0,117.2 568.2,133.1 568.4,125.2 568.6,107.8 568.7,111.2 568.9,118.3 569.1,115.2 569.3,111.8 569.4,109.3 569.6,109.8 569.8,134.7 570.0,111.6 570.1,116.7 570.3,111.2 570.5,110.0 570.7,119.1 570.9,124.0 571.0,117.0 571.2,116.2 571.4,114.9 571.6,107.2 571.7,116.7 571.9,113.9 572.1,114.4 572.3,112.3 572.4,119.0 572.6,115.9 572.8,114.4 573.0,134.1 573.1,109.3 573.3,122.4 573.5,112.9 573.7,109.3 573.8,136.5 574.0,123.9 574.2,127.5 574.4,102.1 574.5,110.6 574.7,111.1 574.9,114.6 575.1,110.7 575.2,119.8 575.4,108.9 575.6,106.6 575.8,105.6 575.9,112.4 576.1,112.9 576.3,120.4 576.5,114.3 576.6,120.6 576.8,106.2 577.0,119.3 577.2,119.6 577.3,116.2 577.5,114.4 577.7,121.8 577.9,104.0 578.0,119.4 578.2,121.2 578.4,112.7 578.6,109.0 578.7,103.1 578.9,106.9 579.1,127.6 579.3,130.9 579.4,111.1 579.6,111.2 579.8,140.1 580.0,111.5 580.2,125.6 580.3,115.8 580.5,142.3 580.7,115.9 580.9,114.3 581.0,109.5 581.2,101.2 581.4,101.4 581.6,97.0 581.7,125.5 581.9,115.0 582.1,102.2 582.3,107.0 582.4,99.1 582.6,117.8 582.8,105.1 583.0,98.0 583.1,129.2 583.3,121.4 583.5,120.3 583.7,120.2 583.8,113.5 584.0,105.6 584.2,109.6 584.4,111.8 584.5,115.2 584.7,123.4 584.9,135.3 585.1,105.7 585.2,117.4 585.4,105.5 585.6,111.2 585.8,106.5 585.9,100.8 586.1,112.4 586.3,101.0 586.5,115.4 586.6,108.4 586.8,90.7 587.0,99.0 587.2,94.7 587.3,102.8 587.5,93.1 587.7,101.6 587.9,108.2 588.0,100.3 588.2,105.5 588.4,88.8 588.6,86.7 588.7,92.9 588.9,86.1 589.1,98.8 589.3,108.4 589.5,106.2 589.6,94.1 589.8,101.2 590.0,109.5 590.2,88.5 590.3,91.6 590.5,130.9 590.7,93.9 590.9,125.2 591.0,99.5 591.2,111.7 591.4,88.6 591.6,78.3 591.7,99.4 591.9,83.8 592.1,102.5 592.3,94.6 592.4,104.5 592.6,86.9 592.8,95.8 593.0,115.5 593.1,94.7 593.3,84.8 593.5,96.4 593.7,118.2 593.8,93.3 594.0,107.7 594.2,82.9 594.4,104.0 594.5,101.9 594.7,82.6 594.9,90.7 595.1,105.2 595.2,92.4 595.4,99.3 595.6,112.8 595.8,80.9 595.9,87.6 596.1,84.4 596.3,93.6 596.5,79.7 596.6,86.1 596.8,82.2 597.0,91.8 597.2,89.9 597.3,96.7 597.5,122.8 597.7,88.9 597.9,86.1 598.1,75.3 598.2,95.2 598.4,79.3 598.6,91.1 598.8,75.7 598.9,87.4 599.1,83.8 599.3,74.4 599.5,99.9 599.6,73.5 599.8,109.4 600.0,99.0 600.2,89.7 600.3,72.0 600.5,95.0 600.7,82.6 600.9,86.7 601.0,82.5 601.2,116.6 601.4,84.5 601.6,81.8 601.7,84.9 601.9,88.7 602.1,87.5 602.3,80.7 602.4,81.9 602.6,87.8 602.8,85.2 603.0,101.5 603.1,80.7 603.3,109.7 603.5,92.3 603.7,95.1 603.8,92.5 604.0,81.3 604.2,87.1 604.4,82.3 604.5,84.6 604.7,95.9 604.9,97.7 605.1,70.3 605.2,74.0 605.4,61.2 605.6,72.0 605.8,65.8 605.9,60.0 606.1,64.7 606.3,56.5 606.5,51.9 606.6,44.1 606.8,20.8 607.0,38.6 607.2,50.3 607.4,52.6 607.5,66.6 607.7,60.2 607.9,62.7 608.1,70.2 608.2,78.0 608.4,77.3 608.6,81.4 608.8,65.8 608.9,72.2 609.1,70.8 609.3,83.3 609.5,87.4 609.6,67.9 609.8,112.6 610.0,92.7 610.2,86.7 610.3,74.4 610.5,81.7 610.7,95.1 610.9,85.6 611.0,89.3 611.2,91.3 611.4,85.9 611.6,117.5 611.7,106.1 611.9,94.7 612.1,86.3 612.3,87.4 612.4,75.5 612.6,82.0 612.8,88.5 613.0,86.0 613.1,85.2 613.3,96.9 613.5,80.6 613.7,83.2 613.8,85.4 614.0,80.2 614.2,84.9 614.4,111.9 614.5,96.6 614.7,91.8 614.9,82.3 615.1,98.2 615.2,96.7 615.4,87.1 615.6,83.3 615.8,98.0 616.0,94.4 616.1,92.4 616.3,95.7 616.5,87.8 616.7,89.0 616.8,84.1 617.0,109.6 617.2,77.2 617.4,93.0 617.5,109.8 617.7,90.4 617.9,94.3 618.1,73.9 618.2,100.9 618.4,110.7 618.6,85.6 618.8,88.1 618.9,83.3 619.1,68.8 619.3,87.7 619.5,71.4 619.6,92.6 619.8,73.2 620.0,97.7 620.2,83.4 620.3,85.1 620.5,97.1 620.7,92.6 620.9,87.6 621.0,98.6 621.2,83.4 621.4,79.9 621.6,105.6 621.7,81.5 621.9,79.4 622.1,76.1 622.3,75.4 622.4,82.3 622.6,100.6 622.8,124.7 623.0,85.4 623.1,84.3 623.3,127.5 623.5,91.4 623.7,85.2 623.8,107.0 624.0,98.5 624.2,92.0 624.4,79.4 624.5,86.6 624.7,93.8 624.9,89.4 625.1,159.4 625.3,95.6 625.4,85.7 625.5,92.2 625.6,87.9 625.8,89.7 626.0,85.3 626.1,76.2 626.3,95.3 626.5,102.5 626.7,87.5 626.8,94.6 627.0,91.5 627.2,92.4 627.4,82.7 627.5,94.6 627.7,97.4 627.9,84.2 628.1,89.6 628.2,92.3 628.4,91.2 628.6,124.3 628.8,112.9 628.9,97.8 629.1,100.9 629.3,98.4 629.5,80.3 629.6,99.9 629.8,84.3 630.0,73.4 630.2,90.4 630.3,82.1 630.5,88.1 630.7,77.9 630.9,74.2 631.0,87.6 631.2,93.8 631.4,78.1 631.6,87.0 631.7,98.8 631.9,100.7 632.1,91.8 632.3,122.2 632.4,88.4 632.6,71.9 632.8,93.8 633.0,82.5 633.1,83.1 633.3,82.0 633.5,79.4 633.7,83.9 633.8,95.9 634.0,87.4 634.2,84.7 634.4,105.6 634.6,84.7 634.7,90.0 634.9,81.6 635.1,92.5 635.3,114.1 635.4,128.4 635.6,93.9 635.8,128.7 636.0,126.3 636.1,82.5 636.3,80.1 636.5,102.6 636.7,115.0 636.8,88.4 637.0,104.2 637.2,98.8 637.4,94.5 637.5,89.3 637.7,76.2 637.9,102.1 638.1,98.4 638.2,97.6 638.4,89.0 638.6,86.8 638.8,108.3 638.9,89.4 639.1,100.6 639.3,94.2 639.5,103.7 639.6,93.0 639.8,87.1 640.0,89.6 640.2,119.2 640.3,96.2 640.5,99.8 640.7,95.9 640.9,112.9 641.0,107.2 641.2,120.6 641.4,95.2 641.6,107.0 641.7,94.3 641.9,99.7 642.1,89.6 642.3,88.2 642.4,57.8 642.5,48.2 642.6,77.7 642.8,91.0 643.0,102.2 643.2,90.2 643.3,95.1 643.5,102.5 643.7,100.8 643.9,111.1 644.0,106.9 644.2,95.0 644.4,103.8 644.6,133.1 644.7,109.9 644.9,93.6 645.1,105.4 645.3,120.5 645.4,103.9 645.6,110.8 645.8,103.8 646.0,112.4 646.1,105.5 646.3,109.8 646.5,127.8 646.7,123.4 646.8,99.1 647.0,101.5 647.2,97.4 647.4,111.1 647.5,110.2 647.7,102.8 647.9,102.5 648.1,99.5 648.2,105.5 648.4,103.7 648.6,109.4 648.8,96.8 648.9,106.5 649.1,111.0 649.3,100.1 649.5,104.2 649.6,101.6 649.8,102.1 650.0,104.8 650.2,126.2 650.3,94.8 650.5,117.4 650.7,100.9 650.9,99.2 651.0,99.6 651.2,136.3 651.4,99.8 651.6,122.7 651.7,111.9 651.9,107.2 652.1,103.4 652.3,104.4 652.5,123.2 652.6,102.6 652.8,113.3 653.0,103.5 653.2,112.7 653.3,106.2 653.5,99.0 653.7,111.7 653.9,133.8 654.0,114.5 654.2,124.5 654.4,114.4 654.6,109.7 654.7,100.0 654.9,116.5 655.1,100.1 655.3,111.1 655.4,117.1 655.6,108.3 655.8,124.3 656.0,102.9 656.1,110.2 656.3,96.7 656.5,132.7 656.7,106.0 656.8,101.2 657.0,96.8 657.2,100.8 657.4,102.8 657.5,100.4 657.7,103.2 657.9,119.4 658.1,104.4 658.2,108.7 658.4,102.0 658.6,117.2 658.8,110.6 658.9,114.1 659.1,104.7 659.3,124.3 659.5,108.4 659.6,112.0 659.8,109.9 660.0,113.5 660.2,112.2 660.3,99.9 660.5,114.8 660.7,113.7 660.9,101.7 661.1,106.3 661.2,108.0 661.4,120.8 661.6,114.3 661.8,98.7 661.9,111.8 662.1,108.7 662.3,122.6 662.5,115.2 662.6,121.8 662.8,98.3 663.0,96.3 663.2,108.8 663.3,113.3 663.5,100.3 663.7,95.6 663.9,119.4 664.0,117.2 664.2,95.3 664.4,94.8 664.6,102.2 664.7,109.0 664.9,91.3 665.1,100.7 665.3,96.9 665.4,97.1 665.6,104.5 665.8,92.9 666.0,92.5 666.1,104.0 666.3,95.5 666.5,96.9 666.7,104.3 666.8,111.0 667.0,98.9 667.2,104.3 667.4,97.3 667.5,96.0 667.7,89.3 667.9,85.4 668.1,106.0 668.2,101.4 668.4,90.8 668.6,78.6 668.8,89.1 668.9,98.1 669.1,90.0 669.3,99.6 669.5,104.4 669.6,111.5 669.8,89.3 670.0,94.3"/>
<polyline stroke="#d20a0a" stroke-width="1.6" points="417.3,79.9 417.5,86.3 417.7,89.6 417.8,99.3 418.0,107.9 418.2,103.7 418.4,89.3 418.5,80.4 418.7,92.9 418.9,79.1 419.1,104.1 419.2,82.5 419.4,96.6 419.6,81.5 419.8,90.4 419.9,86.0 420.1,94.7 420.3,96.9 420.5,93.6 420.6,99.6 420.8,105.6 421.0,100.4 421.2,97.0 421.3,98.4 421.5,96.3 421.7,95.4 421.9,91.8 422.0,107.6 422.2,114.6 422.4,96.5 422.6,100.4 422.7,104.3 422.9,123.0 423.1,128.8 423.3,103.1 423.4,94.9 423.6,96.4 423.8,108.4 424.0,133.6 424.1,103.5 424.3,105.1 424.5,99.0 424.7,94.0 424.8,109.8 425.0,99.8 425.2,100.5 425.4,99.4 425.5,104.6 425.7,99.2 425.9,116.3 426.1,95.0 426.2,104.4 426.4,115.5 426.6,107.7 426.8,107.4 427.0,110.6 427.1,108.2 427.3,118.1 427.5,112.9 427.7,114.9 427.8,108.6 428.0,140.6 428.2,125.2 428.4,107.6 428.5,132.0 428.7,119.0 428.9,112.9 429.1,118.2 429.2,103.6 429.4,135.4 429.6,106.5 429.8,115.5 429.9,118.2 430.1,99.2 430.3,109.8 430.5,110.2 430.6,109.4 430.8,101.7 431.0,101.0 431.2,112.3 431.3,104.9 431.5,108.2 431.7,108.4 431.9,109.3 432.0,112.5 432.2,103.0 432.4,118.5 432.6,109.3 432.7,115.9 432.9,126.3 433.1,107.6 433.3,114.7 433.4,107.3 433.6,123.9 433.8,117.0 434.0,118.1 434.1,101.8 434.3,114.4 434.5,105.2 434.7,105.2 434.8,114.3 435.0,114.8 435.2,100.1 435.4,116.4 435.6,105.0 435.7,97.5 435.9,110.2 436.1,101.2 436.3,122.1 436.4,104.0 436.6,116.7 436.8,114.1 437.0,111.7 437.1,106.1 437.3,107.5 437.5,100.0 437.7,106.3 437.8,108.0 438.0,123.1 438.2,111.0 438.4,108.6 438.5,107.5 438.7,115.0 438.9,99.7 439.1,107.5 439.2,98.7 439.4,121.1 439.6,152.3 439.8,107.1 439.9,124.6 440.1,113.7 440.3,122.2 440.5,99.5 440.6,105.7 440.8,107.2 441.0,112.3 441.2,103.0 441.3,96.2 441.5,113.2 441.7,106.8 441.9,96.4 442.0,91.0 442.2,89.4 442.4,99.5 442.6,105.3 442.7,102.8 442.9,98.1 443.1,98.3 443.3,100.0 443.4,99.1 443.6,92.7 443.8,94.4 444.0,99.2 444.1,106.9 444.3,95.8 444.5,94.8 444.7,100.6 444.9,98.4 445.0,93.8 445.2,99.7 445.4,106.5 445.6,103.6 445.7,105.5 445.9,93.2 446.1,96.1 446.3,113.3 446.4,105.6 446.6,98.3 446.8,91.7 447.0,98.8 447.1,106.8 447.3,97.0 447.5,93.1 447.7,103.4 447.8,91.7 448.0,102.8 448.2,95.5 448.4,106.8 448.5,114.5 448.7,89.6 448.9,126.6 449.1,94.3 449.2,95.3 449.4,93.3 449.6,100.9 449.8,104.1 449.9,91.2 450.1,99.1 450.3,91.7 450.5,104.3 450.6,100.1 450.8,107.0 451.0,105.1 451.2,111.4 451.3,91.7 451.5,87.3 451.7,102.6 451.9,118.3 452.0,106.9 452.2,97.8 452.4,95.2 452.6,102.1 452.7,109.0 452.9,100.0 453.1,101.7 453.3,91.2 453.5,96.9 453.6,108.0 453.8,103.7 454.0,95.8 454.2,94.2 454.3,98.6 454.5,101.8 454.7,106.8 454.9,91.1 455.0,107.9 455.2,98.5 455.4,90.7 455.6,98.1 455.7,96.6 455.9,95.4 456.1,88.8 456.3,96.1 456.4,100.6 456.6,123.2 456.8,85.4 457.0,94.2 457.1,89.4 457.3,106.9 457.5,95.3 457.7,95.7 457.8,94.0 458.0,104.2 458.2,116.1 458.4,86.5 458.5,110.9 458.7,90.6 458.9,94.6 459.1,82.9 459.2,108.1 459.4,82.5 459.6,81.9 459.8,83.0 459.9,95.6 460.1,106.4 460.3,83.8 460.5,85.2 460.6,80.8 460.8,94.7 461.0,111.2 461.2,85.6 461.3,92.7 461.5,88.7 461.7,59.2 461.9,27.1 462.0,64.3 462.2,75.0 462.4,95.6 462.6,91.8 462.8,81.7 462.9,88.3 463.1,80.0 463.3,78.5 463.5,68.5 463.6,72.1 463.8,69.6 464.0,92.5 464.2,76.4 464.3,67.0 464.5,74.3 464.7,107.6 464.9,83.8 465.0,76.1 465.2,80.5 465.4,77.5 465.6,75.2 465.7,62.4 465.9,64.8 466.1,72.3 466.3,60.4 466.4,74.7 466.6,62.4 466.8,62.6 467.0,58.3 467.1,67.9 467.3,87.2 467.5,71.1 467.7,75.5 467.8,63.4 468.0,59.1 468.2,65.1 468.4,78.1 468.5,85.0 468.7,70.3 468.9,70.1 469.1,73.9 469.2,75.8 469.4,72.8 469.6,70.3 469.8,75.8 469.9,60.5 470.1,78.8 470.3,89.2 470.5,67.8 470.6,75.0 470.8,71.8 471.0,59.6 471.2,102.8 471.3,71.8 471.5,71.3 471.7,78.9 471.9,73.7 472.1,83.2 472.2,76.7 472.4,73.3 472.6,75.4 472.8,79.1 472.9,76.1 473.1,72.7 473.3,85.8 473.5,78.6 473.6,76.7 473.8,76.9 474.0,95.8 474.2,91.9 474.3,96.5 474.5,93.0 474.7,69.4 474.9,88.5 475.0,84.5 475.2,88.7 475.4,86.7 475.6,86.8 475.7,92.0 475.9,83.9 476.1,68.8 476.3,84.4 476.4,93.7 476.6,85.0 476.8,66.8 477.0,84.0 477.1,90.1 477.3,87.1 477.5,75.2 477.7,74.5 477.8,86.1 478.0,77.0 478.2,81.8 478.4,72.0 478.5,66.5 478.7,83.8 478.9,64.6 479.1,65.3 479.2,72.5 479.4,59.5 479.6,60.6 479.8,61.8 479.9,58.1 480.1,54.8 480.3,52.9 480.5,32.6 480.7,47.1 480.8,48.9 481.0,60.7 481.2,73.0 481.4,71.1 481.5,64.3 481.7,79.6 481.9,70.3 482.1,94.7 482.2,88.6 482.4,80.5 482.6,68.4 482.8,81.4 482.9,79.9 483.1,76.1 483.3,77.2 483.5,85.9 483.6,77.6 483.8,79.7 484.0,78.3 484.2,81.7 484.3,81.7 484.5,88.5 484.7,79.2 484.9,86.5 485.0,77.0 485.2,101.7 485.4,93.4 485.6,111.5 485.7,75.6 485.9,82.0 486.1,82.8 486.3,90.6 486.4,87.2 486.6,78.2 486.8,82.5 487.0,93.4 487.1,86.8 487.3,82.0 487.5,92.8 487.7,76.0 487.8,80.9 488.0,76.2 488.2,76.9 488.4,79.8 488.5,91.4 488.7,77.1 488.9,73.2 489.1,89.5 489.2,77.2 489.4,84.2 489.6,81.0 489.8,86.1 490.0,112.5 490.1,105.7 490.3,97.4 490.5,85.0 490.7,82.6 490.8,94.8 491.0,88.1 491.2,87.2 491.4,92.0 491.5,89.7 491.7,86.7 491.9,82.5 492.1,82.9 492.2,78.9 492.4,108.3 492.6,74.6 492.8,76.8 492.9,86.1 493.1,80.6 493.3,84.5 493.5,81.2 493.6,92.8 493.8,83.1 494.0,82.1 494.2,80.8 494.3,75.8 494.5,101.1 494.7,73.7 494.9,100.4 495.0,75.3 495.2,82.4 495.4,85.0 495.6,74.3 495.7,80.4 495.9,96.8 496.1,73.9 496.3,89.8 496.4,83.5 496.6,84.1 496.8,96.2 497.0,87.6 497.1,83.3 497.3,79.8 497.5,80.6 497.7,92.0 497.8,78.0 498.0,77.8 498.2,94.4 498.4,91.0 498.6,85.7 498.7,75.9 498.9,79.8 499.1,79.3 499.3,75.1 499.4,74.0 499.6,85.4 499.8,108.2 500.0,82.3 500.1,76.9 500.3,85.9 500.5,76.2 500.7,74.7 500.8,83.9 501.0,84.3 501.2,74.5 501.4,83.8 501.5,78.9 501.7,87.8 501.9,112.1 502.1,72.4 502.2,85.1 502.4,100.5 502.6,97.7 502.8,83.9 502.9,93.6 503.1,82.9 503.3,91.9 503.5,83.6 503.6,94.2 503.8,101.3 504.0,91.3 504.2,86.1 504.3,88.4 504.5,107.8 504.7,85.0 504.9,105.0 505.0,163.9 505.2,107.6 505.4,115.4 505.6,107.9 505.7,127.9 505.9,102.1 506.1,105.5 506.3,105.1 506.4,100.8 506.6,113.9 506.8,100.5 507.0,103.8 507.1,99.6 507.3,104.6 507.5,103.0 507.7,104.3 507.9,118.1 508.0,99.5 508.2,121.7 508.4,108.2 508.6,118.0 508.7,128.6 508.9,111.0 509.1,106.6 509.3,113.4 509.4,106.5 509.6,105.2 509.8,122.0 510.0,121.3 510.1,123.2 510.3,113.3 510.5,111.6 510.7,104.2 510.8,105.2 511.0,116.0 511.2,109.7 511.4,133.5 511.5,123.3 511.7,122.4 511.9,115.5 512.1,143.5 512.2,131.4 512.4,106.4 512.6,115.8 512.8,110.4 512.9,121.4 513.1,112.4 513.3,110.5 513.5,114.2 513.6,111.2 513.8,104.7 514.0,119.2 514.2,109.4 514.3,117.1 514.5,122.7 514.7,104.3 514.9,123.6 515.0,106.5 515.2,124.5 515.4,110.7 515.6,104.6 515.7,119.6 515.9,119.4 516.1,112.6 516.3,116.6 516.4,105.7 516.6,115.7 516.8,124.5 517.0,104.3 517.2,119.1 517.3,114.1 517.5,121.7 517.7,121.1 517.9,111.5 518.0,130.7 518.2,104.5 518.4,142.2 518.6,114.7 518.7,104.9 518.9,117.7 519.1,115.6 519.3,129.6 519.4,106.8 519.6,100.4 519.8,114.0 520.0,109.6 520.1,121.2 520.3,122.3 520.5,103.7 520.7,104.5 520.8,105.1 521.0,98.5 521.2,102.7 521.4,110.2 521.5,115.9 521.7,101.6 521.9,102.8 522.1,115.1 522.2,101.2 522.4,104.1 522.6,134.2 522.8,129.6 522.9,133.4 523.1,107.1 523.3,103.2 523.5,108.2 523.6,111.9 523.8,129.7 524.0,109.3 524.2,116.6 524.3,95.1 524.5,106.7 524.7,113.0 524.9,117.5 525.0,100.0 525.2,110.1 525.4,105.0 525.6,100.6 525.8,119.7 525.9,110.9 526.1,115.7 526.3,104.2 526.5,109.1 526.6,111.2 526.8,108.8 527.0,113.8 527.2,112.0 527.3,113.7 527.5,116.3 527.7,103.4 527.9,123.0 528.0,121.5 528.2,102.9 528.4,115.4 528.6,108.7 528.7,112.3 528.9,124.6 529.1,128.7 529.3,113.0 529.4,120.4 529.6,110.6 529.8,114.1 530.0,98.9 530.1,103.0 530.3,107.2 530.5,107.7 530.7,127.2 530.8,100.5 531.0,101.6 531.2,113.2 531.4,108.4 531.5,110.7 531.7,99.4 531.9,104.1 532.1,100.2 532.2,116.3 532.4,92.3 532.6,97.7 532.8,90.5 532.9,95.1 533.1,92.8 533.3,108.4 533.5,85.1 533.6,90.0 533.8,94.8 534.0,107.7 534.2,81.3 534.3,87.0 534.5,94.8 534.7,84.9 534.9,78.7 535.1,95.9 535.2,121.7 535.4,88.6 535.6,75.9 535.8,87.1 535.9,77.1 536.1,77.8 536.3,88.8 536.5,109.1 536.6,104.6 536.8,80.5 537.0,86.0 537.2,92.7 537.3,83.3 537.5,97.3 537.7,80.8 537.9,88.3 538.0,68.1 538.2,81.0 538.4,79.4 538.6,105.5 538.7,76.6 538.9,81.8 539.1,90.1 539.3,75.7 539.4,69.8 539.6,77.2 539.8,90.0 540.0,80.2 540.1,103.6 540.3,93.7 540.5,85.5 540.7,95.5 540.8,78.9 541.0,92.2 541.2,86.1 541.4,83.2 541.5,75.0 541.7,93.6 541.9,90.4 542.1,89.2 542.2,72.1 542.4,81.3 542.6,87.9 542.8,93.3 542.9,89.7 543.1,71.1 543.3,96.7 543.5,97.2 543.6,76.8 543.8,78.5 544.0,106.5 544.2,75.5 544.4,73.2 544.5,75.7 544.7,57.3 544.9,83.9 545.1,75.4 545.2,70.5 545.4,99.9 545.6,72.8 545.8,80.8 545.9,103.4 546.1,93.8 546.3,71.6 546.5,102.9 546.6,90.3 546.8,88.6 547.0,81.0 547.2,76.1 547.3,90.6 547.5,108.7 547.7,75.5 547.9,84.8 548.0,83.3 548.2,93.0 548.4,80.5 548.6,91.9 548.7,91.6 548.9,78.2 549.1,87.2 549.3,88.1 549.4,80.2 549.6,84.5 549.8,100.3 550.0,140.9 550.1,84.2 550.3,83.7 550.5,97.5 550.7,110.7 550.8,117.8 551.0,88.5 551.2,85.1 551.4,91.9 551.5,84.5 551.7,81.4 551.9,103.7 552.1,102.0 552.2,104.4 552.4,111.6 552.6,112.1 552.8,90.4 553.0,86.8 553.1,95.2 553.3,87.5 553.5,92.0 553.7,113.7 553.8,100.7 554.0,100.7 554.2,124.5 554.4,104.7 554.5,104.6 554.7,98.1 554.9,107.4 555.1,101.9 555.2,104.0 555.4,108.0 555.6,103.3 555.8,104.7 555.9,104.8 556.1,115.6 556.3,109.0 556.5,108.4 556.6,113.2 556.8,115.1 557.0,115.1 557.2,123.9 557.3,106.8 557.5,116.9 557.7,147.0 557.9,105.5 558.0,124.8 558.2,105.2 558.4,110.4 558.6,121.5 558.7,115.5 558.9,122.5 559.1,130.2 559.3,108.5 559.4,116.6 559.6,120.3 559.8,111.4 560.0,116.2 560.1,126.5 560.3,111.9 560.5,119.0 560.7,112.3 560.8,116.0 561.0,114.4 561.2,107.1 561.4,117.3 561.5,109.7 561.7,122.5 561.9,100.1 562.1,105.9 562.3,123.6 562.4,100.2 562.6,105.8 562.8,103.5 563.0,111.0 563.1,138.5 563.3,114.6 563.5,115.2 563.7,139.8 563.8,116.0 564.0,132.3 564.2,132.0 564.4,135.0 564.5,120.5 564.7,110.4 564.9,114.1 565.1,115.4 565.2,106.1 565.4,102.9 565.6,108.0 565.8,107.8 565.9,114.7 566.1,131.1 566.3,103.2 566.5,107.6 566.6,108.4 566.8,110.5 567.0,100.9 567.2,110.3 567.3,121.8 567.5,133.2 567.7,114.0 567.9,112.8 568.0,105.7 568.2,107.3 568.4,104.1 568.6,133.6 568.7,122.0 568.9,115.6 569.1,118.6 569.3,144.3 569.4,111.5 569.6,115.5 569.8,111.4 570.0,116.7 570.1,120.8 570.3,111.7 570.5,112.3 570.7,126.4 570.9,116.7 571.0,118.0 571.2,116.2 571.4,125.6 571.6,111.3 571.7,115.5 571.9,117.6 572.1,112.0 572.3,108.5 572.4,119.7 572.6,118.4 572.8,128.0 573.0,115.9 573.1,108.7 573.3,111.6 573.5,108.6 573.7,119.8 573.8,116.5 574.0,127.4 574.2,114.8 574.4,107.8 574.5,102.0 574.7,112.7 574.9,114.7 575.1,99.5 575.2,105.9 575.4,105.7 575.6,140.2 575.8,127.6 575.9,117.0 576.1,131.8 576.3,120.2 576.5,110.7 576.6,120.3 576.8,104.7 577.0,113.3 577.2,108.1 577.3,105.9 577.5,105.9 577.7,115.4 577.9,101.0 578.0,109.7 578.2,107.2 578.4,107.4 578.6,106.1 578.7,109.1 578.9,103.4 579.1,107.8 579.3,105.2 579.4,109.7 579.6,105.6 579.8,100.0 580.0,114.0 580.2,102.9 580.3,130.2 580.5,118.0 580.7,113.1 580.9,116.5 581.0,125.6 581.2,109.9 581.4,115.2 581.6,109.5 581.7,131.4 581.9,109.6 582.1,106.9 582.3,112.0 582.4,115.9 582.6,105.7 582.8,110.3 583.0,116.8 583.1,106.1 583.3,125.6 583.5,126.1 583.7,130.8 583.8,133.7 584.0,140.2 584.2,119.4 584.4,115.8 584.5,124.6 584.7,120.1 584.9,120.7 585.1,119.9 585.2,102.3 585.4,122.7 585.6,107.8 585.8,105.5 585.9,104.6 586.1,124.8 586.3,102.6 586.5,102.1 586.6,97.3 586.8,102.6 587.0,90.0 587.2,94.7 587.3,117.7 587.5,100.0 587.7,92.6 587.9,100.7 588.0,88.8 588.2,128.6 588.4,84.4 588.6,95.8 588.7,82.8 588.9,90.2 589.1,121.2 589.3,125.2 589.5,92.0 589.6,99.8 589.8,92.6 590.0,95.4 590.2,90.3 590.3,86.3 590.5,76.6 590.7,91.8 590.9,96.1 591.0,94.5 591.2,104.2 591.4,93.0 591.6,103.6 591.7,89.0 591.9,101.1 592.1,97.0 592.3,87.9 592.4,82.4 592.6,81.4 592.8,84.4 593.0,97.9 593.1,92.0 593.3,88.9 593.5,111.7 593.7,74.8 593.8,94.4 594.0,104.6 594.2,86.9 594.4,100.5 594.5,88.6 594.7,78.8 594.9,104.7 595.1,79.8 595.2,83.8 595.4,84.0 595.6,87.9 595.8,81.1 595.9,71.4 596.1,81.0 596.3,102.5 596.5,105.8 596.6,94.8 596.8,102.1 597.0,100.4 597.2,88.9 597.3,96.7 597.5,81.9 597.7,76.6 597.9,94.4 598.1,97.4 598.2,103.6 598.4,96.2 598.6,90.2 598.8,91.6 598.9,80.1 599.1,87.2 599.3,87.0 599.5,86.3 599.6,94.2 599.8,90.7 600.0,82.0 600.2,90.2 600.3,84.1 600.5,116.2 600.7,95.7 600.9,91.1 601.0,89.6 601.2,95.1 601.4,93.6 601.6,93.7 601.7,89.8 601.9,77.8 602.1,116.6 602.3,107.0 602.4,105.1 602.6,91.1 602.8,80.8 603.0,117.7 603.1,71.5 603.3,95.2 603.5,88.0 603.7,82.2 603.8,91.5 604.0,83.5 604.2,103.4 604.4,78.6 604.5,94.5 604.7,80.2 604.9,85.1 605.1,86.6 605.2,113.9 605.4,70.8 605.6,79.9 605.8,70.6 605.9,53.7 606.1,78.1 606.3,63.3 606.5,62.8 606.6,53.7 606.8,35.2 607.0,53.4 607.2,60.0 607.4,61.8 607.5,75.7 607.7,70.5 607.9,65.7 608.1,85.2 608.2,93.1 608.4,116.3 608.6,81.9 608.8,84.1 608.9,80.6 609.1,83.4 609.3,80.9 609.5,75.4 609.6,83.8 609.8,73.7 610.0,89.7 610.2,72.6 610.3,79.4 610.5,70.8 610.7,81.0 610.9,93.5 611.0,103.1 611.2,83.5 611.4,81.6 611.6,78.6 611.7,109.1 611.9,85.7 612.1,98.9 612.3,92.6 612.4,95.6 612.6,87.5 612.8,69.3 613.0,80.7 613.1,84.1 613.3,88.1 613.5,83.0 613.7,82.3 613.8,89.5 614.0,75.2 614.2,78.0 614.4,100.7 614.5,89.8 614.7,69.5 614.9,68.5 615.1,80.4 615.2,68.6 615.4,74.4 615.6,60.5 615.8,77.7 616.0,99.5 616.1,78.0 616.3,85.8 616.5,74.4 616.7,78.3 616.8,80.9 617.0,95.5 617.2,83.4 617.4,67.0 617.5,73.1 617.7,82.5 617.9,77.7 618.1,61.0 618.2,76.4 618.4,59.6 618.6,66.2 618.8,71.2 618.9,81.9 619.1,79.4 619.3,61.2 619.5,63.8 619.6,63.4 619.8,59.7 620.0,81.7 620.2,69.8 620.3,62.9 620.5,77.1 620.7,75.4 620.9,59.5 621.0,61.3 621.2,63.4 621.4,65.2 621.6,77.5 621.7,66.6 621.9,88.8 622.1,63.5 622.3,95.0 622.4,98.4 622.6,76.8 622.8,89.2 623.0,90.2 623.1,72.6 623.3,94.2 623.5,92.3 623.7,75.5 623.8,94.1 624.0,72.0 624.2,102.1 624.4,77.4 624.5,83.7 624.7,94.3 624.9,98.3 625.1,99.7 625.3,68.1 625.4,47.9 625.5,27.7 625.6,53.0 625.8,74.9 626.0,86.0 626.1,84.7 626.3,96.2 626.5,108.5 626.7,79.7 626.8,89.0 627.0,107.0 627.2,85.5 627.4,104.0 627.5,107.9 627.7,116.6 627.9,106.2 628.1,93.7 628.2,69.8 628.4,116.2 628.6,93.6 628.8,101.1 628.9,91.2 629.1,97.5 629.3,97.8 629.5,93.8 629.6,83.5 629.8,83.3 630.0,78.1 630.2,91.3 630.3,84.4 630.5,89.4 630.7,79.4 630.9,77.8 631.0,113.7 631.2,126.5 631.4,113.1 631.6,100.1 631.7,97.3 631.9,87.6 632.1,86.2 632.3,85.1 632.4,90.6 632.6,93.5 632.8,84.4 633.0,115.8 633.1,95.5 633.3,101.8 633.5,93.0 633.7,82.2 633.8,75.0 634.0,84.5 634.2,89.9 634.4,87.4 634.6,95.6 634.7,109.8 634.9,94.4 635.1,92.2 635.3,82.8 635.4,89.3 635.6,91.0 635.8,81.1 636.0,107.6 636.1,89.3 636.3,106.5 636.5,96.0 636.7,79.5 636.8,87.3 637.0,102.8 637.2,78.9 637.4,74.9 637.5,97.3 637.7,83.8 637.9,105.3 638.1,83.3 638.2,107.9 638.4,86.6 638.6,96.7 638.8,91.4 638.9,96.9 639.1,89.1 639.3,92.6 639.5,101.8 639.6,103.4 639.8,96.6 640.0,99.8 640.2,113.0 640.3,99.2 640.5,104.8 640.7,95.5 640.9,110.4 641.0,108.8 641.2,107.2 641.4,113.2 641.6,104.5 641.7,88.6 641.9,98.4 642.1,119.7 642.3,95.6 642.4,115.1 642.5,111.2 642.6,116.9 642.8,116.9 643.0,99.6 643.2,103.5 643.3,104.0 643.5,116.3 643.7,98.2 643.9,105.0 644.0,99.3 644.2,101.8 644.4,110.1 644.6,103.7 644.7,113.0 644.9,106.2 645.1,112.5 645.3,117.5 645.4,106.2 645.6,119.8 645.8,102.1 646.0,100.1 646.1,101.4 646.3,99.0 646.5,98.6 646.7,98.3 646.8,104.4 647.0,115.6 647.2,106.6 647.4,105.2 647.5,133.5 647.7,110.5 647.9,121.1 648.1,107.2 648.2,109.5 648.4,110.9 648.6,112.4 648.8,109.0 648.9,131.6 649.1,111.9 649.3,100.9 649.5,120.6 649.6,97.3 649.8,111.1 650.0,100.3 650.2,125.8 650.3,105.4 650.5,125.5 650.7,123.3 650.9,111.8 651.0,134.0 651.2,113.9 651.4,117.7 651.6,130.8 651.7,108.4 651.9,121.0 652.1,113.4 652.3,107.7 652.5,108.6 652.6,137.3 652.8,111.2 653.0,102.4 653.2,118.7 653.3,112.2 653.5,103.5 653.7,101.4 653.9,110.7 654.0,110.9 654.2,96.8 654.4,110.2 654.6,107.7 654.7,101.9 654.9,106.9 655.1,103.9 655.3,111.2 655.4,103.0 655.6,124.4 655.8,107.6 656.0,118.5 656.1,113.5 656.3,101.4 656.5,104.5 656.7,101.5 656.8,97.9 657.0,111.8 657.2,107.0 657.4,123.4 657.5,93.7 657.7,93.2 657.9,103.3 658.1,98.2 658.2,110.4 658.4,113.9 658.6,95.0 658.8,117.3 658.9,102.6 659.1,112.6 659.3,120.5 659.5,97.1 659.6,100.6 659.8,99.3 660.0,105.0 660.2,106.0 660.3,103.2 660.5,136.4 660.7,136.4 660.9,109.3 661.1,106.3 661.2,109.4 661.4,108.4 661.6,100.2 661.8,113.5 661.9,102.8 662.1,117.8 662.3,102.6 662.5,103.1 662.6,111.6 662.8,98.5 663.0,112.9 663.2,109.3 663.3,97.4 663.5,99.3 663.7,115.2 663.9,105.6 664.0,117.2 664.2,103.5 664.4,89.5 664.6,104.4 664.7,97.2 664.9,98.2 665.1,102.8 665.3,98.4 665.4,90.5 665.6,90.9 665.8,92.3 666.0,97.0 666.1,100.6 666.3,89.8 666.5,121.1 666.7,91.1 666.8,97.8 667.0,98.3 667.2,88.5 667.4,89.8 667.5,87.8 667.7,85.2 667.9,80.9 668.1,90.0 668.2,82.6 668.4,98.3 668.6,90.5 668.8,106.6 668.9,96.9 669.1,89.2 669.3,90.0 669.5,100.1 669.6,86.3 669.8,84.1 670.0,95.6"/>
<polyline stroke="#14dc14" stroke-width="1.1" stroke-dasharray="2 3.5 1 3.5" points="417.3,115.7 417.5,84.9 417.7,102.7 417.8,93.1 418.0,90.1 418.2,89.4 418.4,94.7 418.5,99.2 418.7,85.5 418.9,91.5 419.1,94.5 419.2,94.8 419.4,96.1 419.6,113.0 419.8,95.7 419.9,93.4 420.1,96.1 420.3,93.4 420.5,106.1 420.6,99.5 420.8,103.7 421.0,122.0 421.2,118.5 421.3,95.6 421.5,114.6 421.7,107.9 421.9,88.3 422.0,103.0 422.2,105.4 422.4,95.9 422.6,104.5 422.7,109.0 422.9,106.4 423.1,112.9 423.3,103.9 423.4,94.5 423.6,99.0 423.8,126.3 424.0,99.5 424.1,105.8 424.3,101.8 424.5,120.0 424.7,115.2 424.8,115.7 425.0,110.2 425.2,99.5 425.4,124.0 425.5,103.5 425.7,111.3 425.9,104.8 426.1,96.2 426.2,107.4 426.4,120.5 426.6,113.3 426.8,107.0 427.0,107.4 427.1,111.8 427.3,108.7 427.5,101.8 427.7,113.5 427.8,120.9 428.0,100.7 428.2,109.1 428.4,128.6 428.5,100.2 428.7,118.7 428.9,109.6 429.1,99.2 429.2,103.9 429.4,105.7 429.6,107.3 429.8,105.0 429.9,104.9 430.1,97.2 430.3,105.3 430.5,109.1 430.6,105.9 430.8,116.5 431.0,110.0 431.2,106.2 431.3,103.0 431.5,108.8 431.7,115.4 431.9,108.9 432.0,140.8 432.2,109.9 432.4,104.8 432.6,128.8 432.7,120.0 432.9,113.7 433.1,119.1 433.3,108.0 433.4,107.6 433.6,108.0 433.8,113.5 434.0,110.8 434.1,104.6 434.3,113.3 434.5,108.5 434.7,130.7 434.8,130.0 435.0,105.9 435.2,104.8 435.4,109.4 435.6,121.8 435.7,100.6 435.9,144.0 436.1,128.1 436.3,102.1 436.4,99.5 436.6,123.1 436.8,111.1 437.0,112.4 437.1,101.7 437.3,130.1 437.5,100.6 437.7,94.0 437.8,116.9 438.0,106.7 438.2,101.4 438.4,97.5 438.5,98.3 438.7,119.4 438.9,114.8 439.1,102.2 439.2,111.4 439.4,99.2 439.6,95.2 439.8,102.2 439.9,90.6 440.1,93.7 440.3,96.6 440.5,85.0 440.6,100.1 440.8,101.3 441.0,109.3 441.2,102.4 441.3,86.3 441.5,100.9 441.7,111.0 441.9,97.5 442.0,98.8 442.2,101.4 442.4,96.7 442.6,95.4 442.7,90.7 442.9,89.6 443.1,91.2 443.3,96.9 443.4,89.3 443.6,91.6 443.8,92.7 444.0,93.7 444.1,107.8 444.3,98.6 444.5,104.0 444.7,109.3 444.9,92.4 445.0,96.9 445.2,88.8 445.4,96.7 445.6,124.0 445.7,97.9 445.9,84.9 446.1,96.0 446.3,97.8 446.4,102.4 446.6,87.7 446.8,97.6 447.0,90.6 447.1,87.0 447.3,100.2 447.5,85.6 447.7,103.4 447.8,110.8 448.0,92.2 448.2,102.9 448.4,103.2 448.5,102.8 448.7,102.1 448.9,106.6 449.1,106.0 449.2,103.5 449.4,94.1 449.6,99.8 449.8,102.3 449.9,95.5 450.1,103.6 450.3,115.3 450.5,90.9 450.6,104.5 450.8,86.1 451.0,101.9 451.2,99.6 451.3,105.2 451.5,88.0 451.7,93.2 451.9,108.1 452.0,92.7 452.2,121.3 452.4,98.1 452.6,91.2 452.7,94.7 452.9,95.6 453.1,95.9 453.3,85.2 453.5,89.8 453.6,101.0 453.8,91.3 454.0,82.9 454.2,87.4 454.3,93.1 454.5,96.6 454.7,106.7 454.9,95.0 455.0,88.1 455.2,94.6 455.4,92.7 455.6,83.5 455.7,97.9 455.9,95.3 456.1,88.8 456.3,99.3 456.4,90.3 456.6,100.4 456.8,94.3 457.0,84.4 457.1,87.2 457.3,94.5 457.5,97.6 457.7,87.5 457.8,97.9 458.0,98.6 458.2,119.7 458.4,89.2 458.5,96.5 458.7,79.6 458.9,89.1 459.1,95.9 459.2,84.2 459.4,82.8 459.6,89.0 459.8,105.7 459.9,99.3 460.1,89.6 460.3,109.7 460.5,84.8 460.6,95.1 460.8,90.5 461.0,81.4 461.2,87.4 461.3,95.9 461.5,108.4 461.7,93.2 461.9,82.1 462.0,98.2 462.2,94.3 462.4,104.2 462.6,80.8 462.8,100.9 462.9,82.3 463.1,85.4 463.3,95.8 463.5,83.0 463.6,95.1 463.8,108.8 464.0,102.5 464.2,83.2 464.3,81.4 464.5,120.6 464.7,89.8 464.9,98.3 465.0,94.0 465.2,79.6 465.4,83.6 465.6,86.9 465.7,89.5 465.9,95.3 466.1,74.4 466.3,87.3 466.4,73.8 466.6,94.1 466.8,93.0 467.0,74.1 467.1,99.9 467.3,71.8 467.5,77.3 467.7,66.5 467.8,99.8 468.0,84.3 468.2,68.0 468.4,64.5 468.5,110.3 468.7,64.9 468.9,70.4 469.1,77.3 469.2,66.0 469.4,87.4 469.6,75.1 469.8,59.4 469.9,57.0 470.1,63.0 470.3,62.5 470.5,57.8 470.6,50.5 470.8,50.3 471.0,50.4 471.2,53.6 471.3,49.3 471.5,50.4 471.7,43.8 471.9,43.2 472.1,38.5 472.2,37.1 472.4,37.4 472.6,34.2 472.8,31.2 472.9,28.2 473.1,23.8 473.3,19.3 473.5,16.9 473.6,12.1 473.8,9.9 474.0,12.6 474.2,16.9 474.3,22.1 474.5,25.5 474.7,28.3 474.9,30.2 475.0,32.9 475.2,35.4 475.4,41.6 475.6,39.8 475.7,39.5 475.9,41.1 476.1,44.8 476.3,46.0 476.4,58.7 476.6,46.4 476.8,57.8 477.0,50.0 477.1,53.3 477.3,70.5 477.5,70.9 477.7,60.7 477.8,76.7 478.0,72.6 478.2,57.3 478.4,74.8 478.5,61.4 478.7,96.6 478.9,62.9 479.1,64.7 479.2,73.5 479.4,69.5 479.6,77.8 479.8,65.3 479.9,63.2 480.1,67.0 480.3,55.4 480.5,38.7 480.7,53.8 480.8,64.9 481.0,71.3 481.2,75.1 481.4,66.4 481.5,92.3 481.7,76.6 481.9,98.2 482.1,87.4 482.2,92.6 482.4,96.6 482.6,87.9 482.8,77.1 482.9,86.5 483.1,93.9 483.3,83.2 483.5,89.1 483.6,91.1 483.8,101.2 484.0,86.8 484.2,95.1 484.3,93.0 484.5,94.1 484.7,87.8 484.9,96.0 485.0,88.4 485.2,88.9 485.4,94.8 485.6,98.3 485.7,91.0 485.9,94.2 486.1,89.5 486.3,94.9 486.4,98.8 486.6,108.4 486.8,92.7 487.0,107.7 487.1,87.1 487.3,96.4 487.5,100.8 487.7,84.2 487.8,98.3 488.0,91.5 488.2,92.6 488.4,93.5 488.5,98.1 488.7,92.5 488.9,88.9 489.1,96.4 489.2,81.9 489.4,102.3 489.6,82.8 489.8,89.8 490.0,87.2 490.1,105.7 490.3,84.6 490.5,86.1 490.7,81.8 490.8,87.5 491.0,85.8 491.2,87.2 491.4,84.0 491.5,85.3 491.7,72.7 491.9,91.5 492.1,86.7 492.2,84.9 492.4,74.4 492.6,88.6 492.8,79.6 492.9,83.6 493.1,79.9 493.3,79.5 493.5,81.8 493.6,80.3 493.8,80.5 494.0,75.9 494.2,109.0 494.3,73.1 494.5,83.3 494.7,72.8 494.9,83.3 495.0,99.4 495.2,73.6 495.4,96.6 495.6,83.8 495.7,87.6 495.9,86.3 496.1,93.5 496.3,84.0 496.4,85.4 496.6,79.7 496.8,84.9 497.0,100.2 497.1,91.1 497.3,84.5 497.5,98.9 497.7,111.4 497.8,77.5 498.0,113.8 498.2,86.6 498.4,92.6 498.6,88.0 498.7,92.3 498.9,95.5 499.1,89.3 499.3,80.6 499.4,88.1 499.6,78.5 499.8,89.8 500.0,102.9 500.1,80.4 500.3,88.0 500.5,96.5 500.7,99.5 500.8,89.5 501.0,86.6 501.2,86.5 501.4,85.9 501.5,89.6 501.7,89.0 501.9,99.9 502.1,86.5 502.2,88.1 502.4,77.4 502.6,86.4 502.8,80.7 502.9,90.5 503.1,88.2 503.3,84.2 503.5,92.9 503.6,85.8 503.8,92.7 504.0,95.3 504.2,101.2 504.3,98.0 504.5,100.6 504.7,99.7 504.9,132.4 505.0,98.1 505.2,117.2 505.4,108.2 505.6,100.9 505.7,109.4 505.9,105.5 506.1,130.7 506.3,108.3 506.4,104.3 506.6,109.0 506.8,111.8 507.0,114.3 507.1,98.8 507.3,103.8 507.5,107.5 507.7,120.1 507.9,93.9 508.0,132.0 508.2,110.7 508.4,112.5 508.6,117.9 508.7,98.7 508.9,112.4 509.1,110.3 509.3,123.5 509.4,118.3 509.6,108.7 509.8,101.2 510.0,107.2 510.1,114.1 510.3,131.5 510.5,111.5 510.7,112.3 510.8,107.1 511.0,111.7 511.2,109.6 511.4,110.2 511.5,109.2 511.7,102.6 511.9,113.6 512.1,107.4 512.2,110.0 512.4,116.5 512.6,111.7 512.8,106.0 512.9,112.4 513.1,101.1 513.3,111.7 513.5,107.5 513.6,114.6 513.8,118.4 514.0,124.0 514.2,105.1 514.3,101.5 514.5,106.0 514.7,118.9 514.9,102.7 515.0,114.6 515.2,105.7 515.4,111.8 515.6,114.6 515.7,128.0 515.9,110.4 516.1,110.0 516.3,117.1 516.4,118.4 516.6,120.9 516.8,111.4 517.0,106.9 517.2,109.3 517.3,114.3 517.5,128.5 517.7,112.7 517.9,121.8 518.0,113.4 518.2,113.7 518.4,111.5 518.6,159.9 518.7,118.5 518.9,111.8 519.1,115.0 519.3,127.0 519.4,121.9 519.6,112.1 519.8,111.5 520.0,125.7 520.1,113.3 520.3,126.8 520.5,109.6 520.7,110.1 520.8,142.1 521.0,122.7 521.2,106.1 521.4,116.5 521.5,109.4 521.7,109.8 521.9,130.4 522.1,113.6 522.2,107.4 522.4,112.9 522.6,138.7 522.8,121.7 522.9,109.3 523.1,116.2 523.3,100.4 523.5,107.2 523.6,113.0 523.8,111.2 524.0,114.5 524.2,112.0 524.3,105.3 524.5,115.4 524.7,106.2 524.9,129.5 525.0,119.9 525.2,121.3 525.4,115.5 525.6,118.4 525.8,107.0 525.9,114.2 526.1,115.1 526.3,107.9 526.5,114.6 526.6,105.7 526.8,109.7 527.0,122.5 527.2,123.8 527.3,120.9 527.5,112.6 527.7,108.7 527.9,112.9 528.0,113.2 528.2,131.6 528.4,125.7 528.6,119.5 528.7,119.6 528.9,126.1 529.1,109.4 529.3,130.6 529.4,141.8 529.6,120.5 529.8,102.7 530.0,108.8 530.1,120.4 530.3,116.8 530.5,111.7 530.7,104.7 530.8,115.0 531.0,135.6 531.2,117.9 531.4,129.5 531.5,115.9 531.7,106.6 531.9,106.0 532.1,107.7 532.2,108.8 532.4,108.3 532.6,98.8 532.8,99.4 532.9,108.3 533.1,99.6 533.3,97.4 533.5,102.3 533.6,90.7 533.8,116.6 534.0,116.2 534.2,89.5 534.3,102.0 534.5,89.0 534.7,117.7 534.9,89.3 535.1,88.7 535.2,117.6 535.4,84.5 535.6,95.2 535.8,96.5 535.9,101.7 536.1,113.4 536.3,86.9 536.5,88.7 536.6,81.4 536.8,97.3 537.0,99.3 537.2,90.7 537.3,92.4 537.5,104.6 537.7,78.4 537.9,110.2 538.0,80.5 538.2,91.4 538.4,73.7 538.6,86.5 538.7,82.0 538.9,108.3 539.1,91.2 539.3,81.6 539.4,86.5 539.6,83.3 539.8,81.5 540.0,82.4 540.1,84.6 540.3,90.0 540.5,99.1 540.7,70.9 540.8,85.2 541.0,87.2 541.2,86.0 541.4,85.7 541.5,93.4 541.7,74.1 541.9,82.4 542.1,84.9 542.2,89.9 542.4,69.1 542.6,89.3 542.8,85.8 542.9,88.3 543.1,69.3 543.3,80.8 543.5,80.2 543.6,99.0 543.8,77.9 544.0,75.7 544.2,97.9 544.4,89.6 544.5,76.4 544.7,85.8 544.9,99.0 545.1,91.6 545.2,82.4 545.4,95.5 545.6,71.6 545.8,80.3 545.9,73.2 546.1,76.1 546.3,80.7 546.5,79.1 546.6,78.1 546.8,79.1 547.0,119.0 547.2,83.9 547.3,103.6 547.5,88.5 547.7,78.4 547.9,73.9 548.0,92.6 548.2,97.3 548.4,77.5 548.6,88.4 548.7,89.0 548.9,77.0 549.1,74.5 549.3,88.7 549.4,120.9 549.6,82.3 549.8,102.9 550.0,88.3 550.1,73.4 550.3,88.6 550.5,91.8 550.7,77.6 550.8,95.0 551.0,88.2 551.2,98.4 551.4,80.8 551.5,86.5 551.7,90.0 551.9,92.5 552.1,84.0 552.2,88.3 552.4,109.4 552.6,84.4 552.8,94.7 553.0,107.4 553.1,103.4 553.3,92.3 553.5,120.9 553.7,101.3 553.8,98.4 554.0,104.2 554.2,106.3 554.4,98.2 554.5,107.0 554.7,102.8 554.9,92.0 555.1,102.2 555.2,100.4 555.4,105.6 555.6,102.7 555.8,102.8 555.9,114.3 556.1,117.4 556.3,138.8 556.5,138.5 556.6,108.9 556.8,106.6 557.0,109.8 557.2,117.3 557.3,121.9 557.5,126.0 557.7,109.4 557.9,121.3 558.0,123.6 558.2,116.6 558.4,128.8 558.6,117.1 558.7,115.1 558.9,124.8 559.1,120.7 559.3,133.4 559.4,111.9 559.6,109.8 559.8,120.9 560.0,114.8 560.1,121.3 560.3,110.3 560.5,131.8 560.7,117.1 560.8,123.3 561.0,111.7 561.2,127.7 561.4,106.8 561.5,116.7 561.7,146.7 561.9,107.6 562.1,112.3 562.3,121.5 562.4,129.1 562.6,124.1 562.8,139.7 563.0,138.9 563.1,138.8 563.3,123.4 563.5,119.7 563.7,116.4 563.8,115.4 564.0,115.7 564.2,116.9 564.4,111.3 564.5,114.1 564.7,112.7 564.9,122.8 565.1,109.8 565.2,133.7 565.4,118.6 565.6,117.7 565.8,107.0 565.9,114.7 566.1,111.7 566.3,115.8 566.5,109.4 566.6,114.6 566.8,117.9 567.0,114.3 567.2,109.1 567.3,122.2 567.5,103.4 567.7,108.9 567.9,110.7 568.0,108.3 568.2,124.1 568.4,118.7 568.6,113.4 568.7,105.0 568.9,106.8 569.1,111.6 569.3,101.5 569.4,106.8 569.6,120.6 569.8,119.6 570.0,99.2 570.1,107.7 570.3,110.0 570.5,112.4 570.7,122.6 570.9,101.9 571.0,122.3 571.2,104.6 571.4,127.8 571.6,98.4 571.7,108.1 571.9,120.8 572.1,105.9 572.3,112.7 572.4,126.7 572.6,111.7 572.8,101.0 573.0,108.9 573.1,104.1 573.3,97.5 573.5,102.2 573.7,110.0 573.8,140.3 574.0,118.2 574.2,113.1 574.4,120.2 574.5,109.8 574.7,128.3 574.9,108.6 575.1,117.8 575.2,116.2 575.4,121.6 575.6,111.7 575.8,123.4 575.9,118.4 576.1,121.9 576.3,112.3 576.5,117.0 576.6,115.1 576.8,116.2 577.0,114.1 577.2,125.9 577.3,113.2 577.5,118.4 577.7,125.9 577.9,111.8 578.0,120.1 578.2,120.2 578.4,116.6 578.6,126.0 578.7,115.8 578.9,127.2 579.1,106.8 579.3,119.6 579.4,114.7 579.6,115.2 579.8,110.4 580.0,105.8 580.2,110.2 580.3,114.2 580.5,108.3 580.7,115.5 580.9,127.1 581.0,111.1 581.2,128.6 581.4,100.4 581.6,117.4 581.7,113.5 581.9,104.6 582.1,112.0 582.3,105.6 582.4,111.9 582.6,113.6 582.8,107.0 583.0,142.7 583.1,119.7 583.3,110.4 583.5,120.0 583.7,106.7 583.8,111.6 584.0,133.6 584.2,106.5 584.4,107.8 584.5,120.1 584.7,121.7 584.9,141.8 585.1,113.1 585.2,108.5 585.4,110.6 585.6,112.8 585.8,118.4 585.9,101.4 586.1,105.2 586.3,110.8 586.5,107.9 586.6,104.8 586.8,110.4 587.0,100.4 587.2,99.3 587.3,104.1 587.5,94.7 587.7,95.3 587.9,98.6 588.0,104.8 588.2,109.9 588.4,89.0 588.6,106.3 588.7,92.4 588.9,95.1 589.1,78.3 589.3,86.2 589.5,81.9 589.6,110.3 589.8,98.9 590.0,108.2 590.2,96.0 590.3,78.6 590.5,112.6 590.7,101.7 590.9,95.3 591.0,96.3 591.2,84.1 591.4,71.9 591.6,99.8 591.7,91.3 591.9,104.5 592.1,86.8 592.3,91.4 592.4,82.1 592.6,107.6 592.8,99.6 593.0,97.0 593.1,87.3 593.3,89.5 593.5,88.4 593.7,124.2 593.8,110.7 594.0,84.0 594.2,83.2 594.4,80.2 594.5,90.2 594.7,79.7 594.9,95.6 595.1,96.8 595.2,95.9 595.4,93.2 595.6,92.5 595.8,89.4 595.9,86.5 596.1,98.1 596.3,81.8 596.5,106.0 596.6,78.8 596.8,86.5 597.0,93.5 597.2,129.2 597.3,103.0 597.5,96.9 597.7,91.9 597.9,89.4 598.1,101.0 598.2,106.3 598.4,85.9 598.6,95.8 598.8,83.9 598.9,105.6 599.1,104.2 599.3,85.4 599.5,78.5 599.6,96.9 599.8,88.4 600.0,88.8 600.2,96.0 600.3,90.9 600.5,93.8 600.7,97.0 600.9,83.0 601.0,92.8 601.2,80.0 601.4,109.8 601.6,85.9 601.7,84.7 601.9,78.0 602.1,94.6 602.3,124.4 602.4,87.0 602.6,72.6 602.8,81.1 603.0,94.1 603.1,81.8 603.3,88.5 603.5,83.9 603.7,86.8 603.8,118.0 604.0,82.8 604.2,71.6 604.4,89.5 604.5,81.2 604.7,88.8 604.9,70.3 605.1,86.2 605.2,71.0 605.4,82.6 605.6,73.4 605.8,71.5 605.9,73.3 606.1,75.3 606.3,86.1 606.5,63.6 606.6,55.8 606.8,38.4 607.0,56.5 607.2,62.6 607.4,70.5 607.5,69.2 607.7,71.8 607.9,75.8 608.1,73.5 608.2,77.6 608.4,66.7 608.6,68.6 608.8,78.9 608.9,74.0 609.1,66.3 609.3,56.9 609.5,61.9 609.6,60.8 609.8,58.9 610.0,54.1 610.2,71.5 610.3,55.3 610.5,49.9 610.7,54.8 610.9,50.1 611.0,47.6 611.2,45.3 611.4,42.3 611.6,43.5 611.7,40.4 611.9,37.9 612.1,38.6 612.3,33.7 612.4,31.7 612.6,28.1 612.8,25.2 613.0,20.9 613.1,17.2 613.3,12.6 613.5,9.9 613.7,12.4 613.8,17.0 614.0,20.4 614.2,25.2 614.4,28.0 614.5,30.5 614.7,35.7 614.9,35.9 615.1,38.2 615.2,38.2 615.4,40.5 615.6,43.2 615.8,46.9 616.0,46.7 616.1,48.8 616.3,53.3 616.5,58.5 616.7,58.2 616.8,52.5 617.0,54.5 617.2,57.4 617.4,64.6 617.5,75.3 617.7,60.7 617.9,81.9 618.1,73.0 618.2,70.0 618.4,63.4 618.6,72.3 618.8,71.1 618.9,92.0 619.1,71.7 619.3,73.4 619.5,84.1 619.6,71.4 619.8,71.7 620.0,92.0 620.2,70.4 620.3,78.2 620.5,80.4 620.7,109.9 620.9,85.7 621.0,84.4 621.2,76.2 621.4,81.4 621.6,86.9 621.7,91.4 621.9,82.8 622.1,123.5 622.3,85.4 622.4,85.0 622.6,101.9 622.8,85.7 623.0,75.6 623.1,85.5 623.3,88.8 623.5,78.4 623.7,68.7 623.8,81.0 624.0,112.6 624.2,87.4 624.4,94.3 624.5,86.0 624.7,83.7 624.9,73.2 625.1,81.4 625.3,89.0 625.4,90.2 625.5,100.4 625.6,82.7 625.8,88.6 626.0,80.5 626.1,115.7 626.3,91.4 626.5,85.2 626.7,78.1 626.8,125.8 627.0,96.4 627.2,87.2 627.4,107.0 627.5,83.5 627.7,81.2 627.9,93.0 628.1,95.0 628.2,74.3 628.4,83.3 628.6,83.8 628.8,81.5 628.9,107.5 629.1,93.0 629.3,84.1 629.5,76.8 629.6,82.5 629.8,81.4 630.0,98.4 630.2,104.9 630.3,93.3 630.5,108.1 630.7,101.7 630.9,72.8 631.0,79.1 631.2,93.2 631.4,81.9 631.6,105.5 631.7,89.2 631.9,97.5 632.1,103.1 632.3,107.9 632.4,78.4 632.6,78.2 632.8,94.4 633.0,84.2 633.1,105.7 633.3,77.8 633.5,91.0 633.7,89.4 633.8,86.1 634.0,86.3 634.2,81.1 634.4,93.2 634.6,101.2 634.7,93.4 634.9,89.8 635.1,108.3 635.3,92.9 635.4,88.7 635.6,93.1 635.8,82.5 636.0,104.4 636.1,117.1 636.3,81.1 636.5,81.9 636.7,91.7 636.8,112.8 637.0,103.4 637.2,81.7 637.4,82.8 637.5,94.1 637.7,102.8 637.9,89.6 638.1,97.8 638.2,109.7 638.4,105.9 638.6,76.4 638.8,87.4 638.9,113.3 639.1,85.1 639.3,98.3 639.5,87.0 639.6,88.3 639.8,92.6 640.0,97.8 640.2,104.7 640.3,94.2 640.5,101.0 640.7,98.0 640.9,92.0 641.0,99.6 641.2,83.8 641.4,87.7 641.6,97.3 641.7,100.5 641.9,90.5 642.1,94.7 642.3,94.0 642.4,91.2 642.5,104.5 642.6,87.8 642.8,99.6 643.0,100.4 643.2,95.1 643.3,103.2 643.5,97.0 643.7,95.0 643.9,93.2 644.0,90.9 644.2,95.1 644.4,102.4 644.6,99.7 644.7,101.9 644.9,94.0 645.1,95.2 645.3,109.9 645.4,99.5 645.6,108.2 645.8,101.6 646.0,122.3 646.1,118.4 646.3,108.8 646.5,103.4 646.7,102.1 646.8,106.0 647.0,104.7 647.2,100.9 647.4,93.3 647.5,106.5 647.7,107.3 647.9,91.9 648.1,104.2 648.2,98.0 648.4,105.5 648.6,96.2 648.8,103.0 648.9,113.2 649.1,116.0 649.3,96.2 649.5,107.8 649.6,99.8 649.8,104.3 650.0,96.1 650.2,112.8 650.3,102.1 650.5,136.3 650.7,120.8 650.9,111.6 651.0,113.4 651.2,111.9 651.4,99.8 651.6,110.1 651.7,117.1 651.9,101.2 652.1,130.6 652.3,111.0 652.5,121.5 652.6,109.5 652.8,107.7 653.0,107.4 653.2,134.1 653.3,97.9 653.5,112.3 653.7,108.4 653.9,105.2 654.0,108.9 654.2,105.6 654.4,100.3 654.6,106.5 654.7,109.2 654.9,104.6 655.1,111.2 655.3,117.5 655.4,108.5 655.6,120.8 655.8,120.4 656.0,113.8 656.1,103.1 656.3,119.9 656.5,102.7 656.7,106.3 656.8,112.5 657.0,105.7 657.2,118.6 657.4,112.3 657.5,104.8 657.7,96.8 657.9,112.9 658.1,102.1 658.2,112.3 658.4,104.5 658.6,121.6 658.8,102.0 658.9,107.4 659.1,114.0 659.3,115.8 659.5,110.7 659.6,103.8 659.8,105.3 660.0,111.4 660.2,107.6 660.3,115.9 660.5,109.2 660.7,97.4 660.9,100.9 661.1,95.9 661.2,106.2 661.4,92.6 661.6,113.4 661.8,108.9 661.9,98.0 662.1,124.0 662.3,104.6 662.5,106.2 662.6,112.8 662.8,111.1 663.0,117.1 663.2,97.8 663.3,99.6 663.5,98.4 663.7,92.2 663.9,113.1 664.0,96.1 664.2,112.0 664.4,92.4 664.6,103.8 664.7,103.7 664.9,113.5 665.1,97.5 665.3,91.6 665.4,103.9 665.6,97.0 665.8,90.5 666.0,98.2 666.1,103.8 666.3,94.4 666.5,90.3 666.7,96.6 666.8,90.5 667.0,86.9 667.2,92.4 667.4,94.6 667.5,97.2 667.7,110.6 667.9,82.0 668.1,102.7 668.2,97.9 668.4,95.5 668.6,83.4 668.8,78.1 668.9,84.2 669.1,82.7 669.3,82.8 669.5,82.9 669.6,87.0 669.8,98.6 670.0,92.8"/>
</g>
<path d="M492.5 170.60H548.5" stroke="#0a0ad2" stroke-width="2" stroke-dasharray="14 8" fill="none"/>
<text x="553.5" y="177.00" font-size="16.5">t=0.667s</text>
<path d="M492.5 193.50H548.5" stroke="#d20a0a" stroke-width="2" fill="none"/>
<text x="553.5" y="199.90" font-size="16.5">t=3.185s</text>
<path d="M492.5 216.40H548.5" stroke="#14dc14" stroke-width="2" stroke-dasharray="11 4 3 4" fill="none"/>
<text x="553.5" y="222.80" font-size="16.5">t=4.0s</text>
<path d="M417.30 6.50H670.00V224.40H417.30ZM417.30 224.40v-3.2M417.30 6.50v3.2M480.48 224.40v-3.2M480.48 6.50v3.2M543.65 224.40v-3.2M543.65 6.50v3.2M606.83 224.40v-3.2M606.83 6.50v3.2M670.00 224.40v-3.2M670.00 6.50v3.2M417.30 6.50h3.2M670.00 6.50h-3.2M417.30 42.82h3.2M670.00 42.82h-3.2M417.30 79.13h3.2M670.00 79.13h-3.2M417.30 115.45h3.2M670.00 115.45h-3.2M417.30 151.77h3.2M670.00 151.77h-3.2M417.30 188.08h3.2M670.00 188.08h-3.2M417.30 224.40h3.2M670.00 224.40h-3.2" stroke="#1a1a1a" stroke-width="1.6" fill="none" stroke-linecap="square"/>
<text x="409.2" y="14.30" font-size="18" text-anchor="end">40</text>
<text x="409.2" y="50.62" font-size="18" text-anchor="end">20</text>
<text x="409.2" y="86.93" font-size="18" text-anchor="end">0</text>
<text x="409.2" y="123.25" font-size="18" text-anchor="end">-20</text>
<text x="409.2" y="159.57" font-size="18" text-anchor="end">-40</text>
<text x="409.2" y="195.88" font-size="18" text-anchor="end">-60</text>
<text x="409.2" y="232.20" font-size="18" text-anchor="end">-80</text>
<text x="416.70" y="251.0" font-size="18" text-anchor="middle">0</text>
<text x="479.88" y="251.0" font-size="18" text-anchor="middle">90</text>
<text x="543.05" y="251.0" font-size="18" text-anchor="middle">180</text>
<text x="606.23" y="251.0" font-size="18" text-anchor="middle">270</text>
<text x="669.40" y="251.0" font-size="18" text-anchor="middle">360</text>
<text transform="translate(372.90 169.4) rotate(-90)" font-size="20.8">RCS(dBm<tspan dy="-9.7" font-size="15">2</tspan><tspan dy="9.7" dx="1.2">)</tspan></text>
<text x="543.45" y="279.5" font-size="21" text-anchor="middle">&#945;(&#176;)</text>
<text class="cap" y="309.7"><tspan x="115.7">(a)</tspan><tspan x="153.1">RCS</tspan><tspan x="183.5">curve</tspan><tspan x="219.6">at</tspan><tspan x="233.0" font-style="italic">&#946;</tspan><tspan x="241.0">=0</tspan><tspan x="256.0" font-size="16" stroke-width="0">&#176;</tspan></text>
<text class="cap" y="309.7"><tspan x="468.9">(b)</tspan><tspan x="506.2">RCS</tspan><tspan x="537.1">curve</tspan><tspan x="572.5">at</tspan><tspan x="586.2" font-style="italic">&#946;</tspan><tspan x="594.1">=10</tspan><tspan x="616.6" font-size="16" stroke-width="0">&#176;</tspan></text>
</svg>
</body></html>
